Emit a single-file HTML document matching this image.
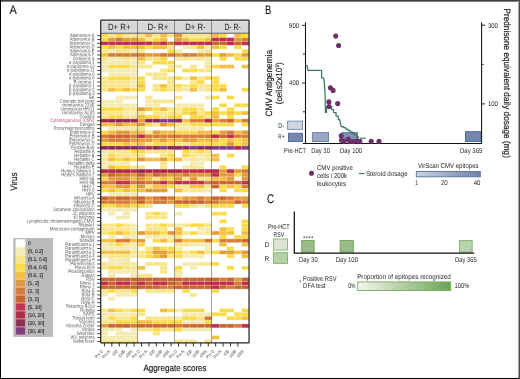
<!DOCTYPE html>
<html lang="en"><head><meta charset="utf-8"><title>Figure</title>
<style>html,body{margin:0;padding:0;background:#fff;overflow:hidden}svg{display:block}text{font-family:"Liberation Sans",sans-serif;text-rendering:geometricPrecision}</style>
</head><body>
<svg width="520" height="379" viewBox="0 0 520 379">
<rect x="0" y="0" width="520" height="379" fill="#ffffff"/>
<g id="panelA">
<text transform="translate(9.50,13.70) rotate(0) scale(0.8826,1)" font-size="12.4" fill="#111" stroke="#111" stroke-width="0.1">A</text>
<rect x="100.7" y="20" width="148.30" height="13.3" fill="#d9d6d6"/>
<text transform="translate(119.24,30.20) rotate(0) scale(0.8650,1)" font-size="9" fill="#222" text-anchor="middle">D+ R+</text>
<text transform="translate(157.91,30.20) rotate(0) scale(0.8715,1)" font-size="9" fill="#222" text-anchor="middle">D- R+</text>
<text transform="translate(195.49,30.20) rotate(0) scale(0.8588,1)" font-size="9" fill="#222" text-anchor="middle">D+ R-</text>
<text transform="translate(232.56,30.20) rotate(0) scale(0.7537,1)" font-size="9" fill="#222" text-anchor="middle">D- R-</text>
<g>
<rect x="100.70" y="33.70" width="7.42" height="3.87" fill="#fbdb45"/>
<rect x="108.12" y="33.70" width="7.42" height="3.87" fill="#f9e689"/>
<rect x="115.53" y="33.70" width="7.42" height="3.87" fill="#fbdb45"/>
<rect x="122.95" y="33.70" width="7.42" height="3.87" fill="#f9e689"/>
<rect x="130.36" y="33.70" width="7.42" height="3.87" fill="#f9e689"/>
<rect x="137.78" y="33.70" width="7.42" height="3.87" fill="#f9e689"/>
<rect x="145.19" y="33.70" width="7.42" height="3.87" fill="#f5be40"/>
<rect x="152.61" y="33.70" width="7.42" height="3.87" fill="#f9e689"/>
<rect x="160.02" y="33.70" width="7.42" height="3.87" fill="#f5be40"/>
<rect x="167.44" y="33.70" width="7.42" height="3.87" fill="#f9e689"/>
<rect x="174.85" y="33.70" width="7.42" height="3.87" fill="#e39a37"/>
<rect x="182.27" y="33.70" width="7.42" height="3.87" fill="#f9e689"/>
<rect x="189.68" y="33.70" width="7.42" height="3.87" fill="#f9e689"/>
<rect x="197.10" y="33.70" width="7.42" height="3.87" fill="#f9e689"/>
<rect x="204.51" y="33.70" width="7.42" height="3.87" fill="#f9e689"/>
<rect x="211.93" y="33.70" width="7.42" height="3.87" fill="#f5be40"/>
<rect x="219.34" y="33.70" width="7.42" height="3.87" fill="#fbdb45"/>
<rect x="234.17" y="33.70" width="7.42" height="3.87" fill="#f5be40"/>
<rect x="241.59" y="33.70" width="7.42" height="3.87" fill="#fbdb45"/>
<rect x="100.70" y="37.57" width="7.42" height="3.87" fill="#fbdb45"/>
<rect x="108.12" y="37.57" width="7.42" height="3.87" fill="#e39a37"/>
<rect x="115.53" y="37.57" width="7.42" height="3.87" fill="#d77b34"/>
<rect x="122.95" y="37.57" width="7.42" height="3.87" fill="#e39a37"/>
<rect x="130.36" y="37.57" width="7.42" height="3.87" fill="#e39a37"/>
<rect x="137.78" y="37.57" width="7.42" height="3.87" fill="#f5be40"/>
<rect x="145.19" y="37.57" width="7.42" height="3.87" fill="#f9e689"/>
<rect x="152.61" y="37.57" width="7.42" height="3.87" fill="#fbdb45"/>
<rect x="160.02" y="37.57" width="7.42" height="3.87" fill="#f5be40"/>
<rect x="174.85" y="37.57" width="7.42" height="3.87" fill="#e39a37"/>
<rect x="182.27" y="37.57" width="7.42" height="3.87" fill="#f5be40"/>
<rect x="189.68" y="37.57" width="7.42" height="3.87" fill="#fbdb45"/>
<rect x="197.10" y="37.57" width="7.42" height="3.87" fill="#fbdb45"/>
<rect x="204.51" y="37.57" width="7.42" height="3.87" fill="#f5be40"/>
<rect x="211.93" y="37.57" width="7.42" height="3.87" fill="#c32b4b"/>
<rect x="219.34" y="37.57" width="7.42" height="3.87" fill="#c32b4b"/>
<rect x="226.76" y="37.57" width="7.42" height="3.87" fill="#c32b4b"/>
<rect x="234.17" y="37.57" width="7.42" height="3.87" fill="#e39a37"/>
<rect x="241.59" y="37.57" width="7.42" height="3.87" fill="#d77b34"/>
<rect x="100.70" y="41.44" width="7.42" height="3.87" fill="#c32b4b"/>
<rect x="108.12" y="41.44" width="7.42" height="3.87" fill="#c32b4b"/>
<rect x="115.53" y="41.44" width="7.42" height="3.87" fill="#c32b4b"/>
<rect x="122.95" y="41.44" width="7.42" height="3.87" fill="#c32b4b"/>
<rect x="130.36" y="41.44" width="7.42" height="3.87" fill="#c32b4b"/>
<rect x="137.78" y="41.44" width="7.42" height="3.87" fill="#c32b4b"/>
<rect x="145.19" y="41.44" width="7.42" height="3.87" fill="#c32b4b"/>
<rect x="152.61" y="41.44" width="7.42" height="3.87" fill="#cc632d"/>
<rect x="160.02" y="41.44" width="7.42" height="3.87" fill="#c32b4b"/>
<rect x="167.44" y="41.44" width="7.42" height="3.87" fill="#d77b34"/>
<rect x="174.85" y="41.44" width="7.42" height="3.87" fill="#c32b4b"/>
<rect x="182.27" y="41.44" width="7.42" height="3.87" fill="#c32b4b"/>
<rect x="189.68" y="41.44" width="7.42" height="3.87" fill="#c32b4b"/>
<rect x="197.10" y="41.44" width="7.42" height="3.87" fill="#c32b4b"/>
<rect x="204.51" y="41.44" width="7.42" height="3.87" fill="#c32b4b"/>
<rect x="211.93" y="41.44" width="7.42" height="3.87" fill="#cc632d"/>
<rect x="219.34" y="41.44" width="7.42" height="3.87" fill="#cc632d"/>
<rect x="226.76" y="41.44" width="7.42" height="3.87" fill="#c32b4b"/>
<rect x="234.17" y="41.44" width="7.42" height="3.87" fill="#cc632d"/>
<rect x="241.59" y="41.44" width="7.42" height="3.87" fill="#c32b4b"/>
<rect x="100.70" y="45.31" width="7.42" height="3.87" fill="#fbdb45"/>
<rect x="108.12" y="45.31" width="7.42" height="3.87" fill="#f5be40"/>
<rect x="115.53" y="45.31" width="7.42" height="3.87" fill="#fbdb45"/>
<rect x="122.95" y="45.31" width="7.42" height="3.87" fill="#f5be40"/>
<rect x="130.36" y="45.31" width="7.42" height="3.87" fill="#f5be40"/>
<rect x="137.78" y="45.31" width="7.42" height="3.87" fill="#f5be40"/>
<rect x="145.19" y="45.31" width="7.42" height="3.87" fill="#fbdb45"/>
<rect x="152.61" y="45.31" width="7.42" height="3.87" fill="#f5be40"/>
<rect x="160.02" y="45.31" width="7.42" height="3.87" fill="#f5be40"/>
<rect x="167.44" y="45.31" width="7.42" height="3.87" fill="#f9e689"/>
<rect x="182.27" y="45.31" width="7.42" height="3.87" fill="#f4ebb2"/>
<rect x="189.68" y="45.31" width="7.42" height="3.87" fill="#f9e689"/>
<rect x="197.10" y="45.31" width="7.42" height="3.87" fill="#f5be40"/>
<rect x="204.51" y="45.31" width="7.42" height="3.87" fill="#f4ebb2"/>
<rect x="211.93" y="45.31" width="7.42" height="3.87" fill="#f5be40"/>
<rect x="219.34" y="45.31" width="7.42" height="3.87" fill="#fbdb45"/>
<rect x="234.17" y="45.31" width="7.42" height="3.87" fill="#fbdb45"/>
<rect x="100.70" y="49.18" width="7.42" height="3.87" fill="#f9e689"/>
<rect x="108.12" y="49.18" width="7.42" height="3.87" fill="#f4ebb2"/>
<rect x="115.53" y="49.18" width="7.42" height="3.87" fill="#f9e689"/>
<rect x="122.95" y="49.18" width="7.42" height="3.87" fill="#f9e689"/>
<rect x="130.36" y="49.18" width="7.42" height="3.87" fill="#f4ebb2"/>
<rect x="137.78" y="49.18" width="7.42" height="3.87" fill="#f9e689"/>
<rect x="167.44" y="49.18" width="7.42" height="3.87" fill="#fbdb45"/>
<rect x="174.85" y="49.18" width="7.42" height="3.87" fill="#f4ebb2"/>
<rect x="197.10" y="49.18" width="7.42" height="3.87" fill="#f4ebb2"/>
<rect x="204.51" y="49.18" width="7.42" height="3.87" fill="#f9e689"/>
<rect x="241.59" y="49.18" width="7.42" height="3.87" fill="#fbdb45"/>
<rect x="100.70" y="53.05" width="7.42" height="3.87" fill="#f5be40"/>
<rect x="108.12" y="53.05" width="7.42" height="3.87" fill="#d77b34"/>
<rect x="115.53" y="53.05" width="7.42" height="3.87" fill="#d77b34"/>
<rect x="122.95" y="53.05" width="7.42" height="3.87" fill="#d77b34"/>
<rect x="130.36" y="53.05" width="7.42" height="3.87" fill="#d77b34"/>
<rect x="137.78" y="53.05" width="7.42" height="3.87" fill="#d77b34"/>
<rect x="145.19" y="53.05" width="7.42" height="3.87" fill="#e39a37"/>
<rect x="152.61" y="53.05" width="7.42" height="3.87" fill="#e39a37"/>
<rect x="160.02" y="53.05" width="7.42" height="3.87" fill="#d77b34"/>
<rect x="167.44" y="53.05" width="7.42" height="3.87" fill="#d77b34"/>
<rect x="174.85" y="53.05" width="7.42" height="3.87" fill="#e39a37"/>
<rect x="182.27" y="53.05" width="7.42" height="3.87" fill="#d77b34"/>
<rect x="189.68" y="53.05" width="7.42" height="3.87" fill="#d77b34"/>
<rect x="197.10" y="53.05" width="7.42" height="3.87" fill="#e39a37"/>
<rect x="204.51" y="53.05" width="7.42" height="3.87" fill="#e39a37"/>
<rect x="211.93" y="53.05" width="7.42" height="3.87" fill="#fbdb45"/>
<rect x="219.34" y="53.05" width="7.42" height="3.87" fill="#e39a37"/>
<rect x="226.76" y="53.05" width="7.42" height="3.87" fill="#f5be40"/>
<rect x="234.17" y="53.05" width="7.42" height="3.87" fill="#fbdb45"/>
<rect x="241.59" y="53.05" width="7.42" height="3.87" fill="#e39a37"/>
<rect x="100.70" y="56.92" width="7.42" height="3.87" fill="#f9e689"/>
<rect x="108.12" y="56.92" width="7.42" height="3.87" fill="#f4ebb2"/>
<rect x="115.53" y="56.92" width="7.42" height="3.87" fill="#f4ebb2"/>
<rect x="122.95" y="56.92" width="7.42" height="3.87" fill="#f9e689"/>
<rect x="130.36" y="56.92" width="7.42" height="3.87" fill="#f4ebb2"/>
<rect x="137.78" y="56.92" width="7.42" height="3.87" fill="#f5be40"/>
<rect x="145.19" y="56.92" width="7.42" height="3.87" fill="#f9e689"/>
<rect x="152.61" y="56.92" width="7.42" height="3.87" fill="#f9e689"/>
<rect x="160.02" y="56.92" width="7.42" height="3.87" fill="#fbdb45"/>
<rect x="174.85" y="56.92" width="7.42" height="3.87" fill="#f4ebb2"/>
<rect x="182.27" y="56.92" width="7.42" height="3.87" fill="#f9e689"/>
<rect x="189.68" y="56.92" width="7.42" height="3.87" fill="#f4ebb2"/>
<rect x="197.10" y="56.92" width="7.42" height="3.87" fill="#f9e689"/>
<rect x="204.51" y="56.92" width="7.42" height="3.87" fill="#f4ebb2"/>
<rect x="219.34" y="56.92" width="7.42" height="3.87" fill="#fbdb45"/>
<rect x="234.17" y="56.92" width="7.42" height="3.87" fill="#fbdb45"/>
<rect x="241.59" y="56.92" width="7.42" height="3.87" fill="#fbdb45"/>
<rect x="100.70" y="60.79" width="7.42" height="3.87" fill="#f4ebb2"/>
<rect x="108.12" y="60.79" width="7.42" height="3.87" fill="#f4ebb2"/>
<rect x="115.53" y="60.79" width="7.42" height="3.87" fill="#f4ebb2"/>
<rect x="122.95" y="60.79" width="7.42" height="3.87" fill="#f4ebb2"/>
<rect x="130.36" y="60.79" width="7.42" height="3.87" fill="#f4ebb2"/>
<rect x="137.78" y="60.79" width="7.42" height="3.87" fill="#f9e689"/>
<rect x="152.61" y="60.79" width="7.42" height="3.87" fill="#fbdb45"/>
<rect x="160.02" y="60.79" width="7.42" height="3.87" fill="#fbdb45"/>
<rect x="167.44" y="60.79" width="7.42" height="3.87" fill="#fbdb45"/>
<rect x="204.51" y="60.79" width="7.42" height="3.87" fill="#f4ebb2"/>
<rect x="100.70" y="64.66" width="7.42" height="3.87" fill="#f4ebb2"/>
<rect x="108.12" y="64.66" width="7.42" height="3.87" fill="#fbdb45"/>
<rect x="115.53" y="64.66" width="7.42" height="3.87" fill="#fbdb45"/>
<rect x="122.95" y="64.66" width="7.42" height="3.87" fill="#fbdb45"/>
<rect x="130.36" y="64.66" width="7.42" height="3.87" fill="#f9e689"/>
<rect x="137.78" y="64.66" width="7.42" height="3.87" fill="#f9e689"/>
<rect x="145.19" y="64.66" width="7.42" height="3.87" fill="#f9e689"/>
<rect x="167.44" y="64.66" width="7.42" height="3.87" fill="#f9e689"/>
<rect x="174.85" y="64.66" width="7.42" height="3.87" fill="#f4ebb2"/>
<rect x="189.68" y="64.66" width="7.42" height="3.87" fill="#f9e689"/>
<rect x="204.51" y="64.66" width="7.42" height="3.87" fill="#f9e689"/>
<rect x="211.93" y="64.66" width="7.42" height="3.87" fill="#fbdb45"/>
<rect x="219.34" y="64.66" width="7.42" height="3.87" fill="#f5be40"/>
<rect x="226.76" y="64.66" width="7.42" height="3.87" fill="#f5be40"/>
<rect x="241.59" y="64.66" width="7.42" height="3.87" fill="#f5be40"/>
<rect x="100.70" y="68.53" width="7.42" height="3.87" fill="#f4ebb2"/>
<rect x="108.12" y="68.53" width="7.42" height="3.87" fill="#f4ebb2"/>
<rect x="115.53" y="68.53" width="7.42" height="3.87" fill="#f4ebb2"/>
<rect x="122.95" y="68.53" width="7.42" height="3.87" fill="#f4ebb2"/>
<rect x="130.36" y="68.53" width="7.42" height="3.87" fill="#f4ebb2"/>
<rect x="160.02" y="68.53" width="7.42" height="3.87" fill="#f9e689"/>
<rect x="167.44" y="68.53" width="7.42" height="3.87" fill="#fbdb45"/>
<rect x="182.27" y="68.53" width="7.42" height="3.87" fill="#fbdb45"/>
<rect x="189.68" y="68.53" width="7.42" height="3.87" fill="#fbdb45"/>
<rect x="197.10" y="68.53" width="7.42" height="3.87" fill="#f9e689"/>
<rect x="204.51" y="68.53" width="7.42" height="3.87" fill="#f9e689"/>
<rect x="108.12" y="72.40" width="7.42" height="3.87" fill="#f4ebb2"/>
<rect x="115.53" y="72.40" width="7.42" height="3.87" fill="#f4ebb2"/>
<rect x="122.95" y="72.40" width="7.42" height="3.87" fill="#f4ebb2"/>
<rect x="130.36" y="72.40" width="7.42" height="3.87" fill="#f4ebb2"/>
<rect x="145.19" y="72.40" width="7.42" height="3.87" fill="#f9e689"/>
<rect x="152.61" y="72.40" width="7.42" height="3.87" fill="#f9e689"/>
<rect x="160.02" y="72.40" width="7.42" height="3.87" fill="#f9e689"/>
<rect x="100.70" y="76.27" width="7.42" height="3.87" fill="#f9e689"/>
<rect x="108.12" y="76.27" width="7.42" height="3.87" fill="#fbdb45"/>
<rect x="115.53" y="76.27" width="7.42" height="3.87" fill="#fbdb45"/>
<rect x="122.95" y="76.27" width="7.42" height="3.87" fill="#fbdb45"/>
<rect x="130.36" y="76.27" width="7.42" height="3.87" fill="#f9e689"/>
<rect x="137.78" y="76.27" width="7.42" height="3.87" fill="#fbdb45"/>
<rect x="152.61" y="76.27" width="7.42" height="3.87" fill="#f9e689"/>
<rect x="160.02" y="76.27" width="7.42" height="3.87" fill="#f9e689"/>
<rect x="167.44" y="76.27" width="7.42" height="3.87" fill="#f9e689"/>
<rect x="174.85" y="76.27" width="7.42" height="3.87" fill="#fbdb45"/>
<rect x="182.27" y="76.27" width="7.42" height="3.87" fill="#f4ebb2"/>
<rect x="189.68" y="76.27" width="7.42" height="3.87" fill="#f5be40"/>
<rect x="197.10" y="76.27" width="7.42" height="3.87" fill="#f9e689"/>
<rect x="204.51" y="76.27" width="7.42" height="3.87" fill="#fbdb45"/>
<rect x="211.93" y="76.27" width="7.42" height="3.87" fill="#fbdb45"/>
<rect x="100.70" y="80.14" width="7.42" height="3.87" fill="#f9e689"/>
<rect x="108.12" y="80.14" width="7.42" height="3.87" fill="#f9e689"/>
<rect x="115.53" y="80.14" width="7.42" height="3.87" fill="#f9e689"/>
<rect x="122.95" y="80.14" width="7.42" height="3.87" fill="#f9e689"/>
<rect x="130.36" y="80.14" width="7.42" height="3.87" fill="#f4ebb2"/>
<rect x="137.78" y="80.14" width="7.42" height="3.87" fill="#fbdb45"/>
<rect x="167.44" y="80.14" width="7.42" height="3.87" fill="#f9e689"/>
<rect x="189.68" y="80.14" width="7.42" height="3.87" fill="#f9e689"/>
<rect x="197.10" y="80.14" width="7.42" height="3.87" fill="#fbdb45"/>
<rect x="211.93" y="80.14" width="7.42" height="3.87" fill="#fbdb45"/>
<rect x="100.70" y="84.01" width="7.42" height="3.87" fill="#f9e689"/>
<rect x="108.12" y="84.01" width="7.42" height="3.87" fill="#f9e689"/>
<rect x="115.53" y="84.01" width="7.42" height="3.87" fill="#f9e689"/>
<rect x="122.95" y="84.01" width="7.42" height="3.87" fill="#f9e689"/>
<rect x="130.36" y="84.01" width="7.42" height="3.87" fill="#f4ebb2"/>
<rect x="137.78" y="84.01" width="7.42" height="3.87" fill="#f5be40"/>
<rect x="152.61" y="84.01" width="7.42" height="3.87" fill="#f9e689"/>
<rect x="160.02" y="84.01" width="7.42" height="3.87" fill="#f5be40"/>
<rect x="167.44" y="84.01" width="7.42" height="3.87" fill="#f9e689"/>
<rect x="174.85" y="84.01" width="7.42" height="3.87" fill="#fbdb45"/>
<rect x="182.27" y="84.01" width="7.42" height="3.87" fill="#f9e689"/>
<rect x="189.68" y="84.01" width="7.42" height="3.87" fill="#fbdb45"/>
<rect x="197.10" y="84.01" width="7.42" height="3.87" fill="#f9e689"/>
<rect x="204.51" y="84.01" width="7.42" height="3.87" fill="#f9e689"/>
<rect x="211.93" y="84.01" width="7.42" height="3.87" fill="#fbdb45"/>
<rect x="219.34" y="84.01" width="7.42" height="3.87" fill="#fbdb45"/>
<rect x="100.70" y="87.88" width="7.42" height="3.87" fill="#f9e689"/>
<rect x="108.12" y="87.88" width="7.42" height="3.87" fill="#f5be40"/>
<rect x="115.53" y="87.88" width="7.42" height="3.87" fill="#fbdb45"/>
<rect x="122.95" y="87.88" width="7.42" height="3.87" fill="#f5be40"/>
<rect x="130.36" y="87.88" width="7.42" height="3.87" fill="#fbdb45"/>
<rect x="137.78" y="87.88" width="7.42" height="3.87" fill="#fbdb45"/>
<rect x="152.61" y="87.88" width="7.42" height="3.87" fill="#f9e689"/>
<rect x="160.02" y="87.88" width="7.42" height="3.87" fill="#fbdb45"/>
<rect x="167.44" y="87.88" width="7.42" height="3.87" fill="#f9e689"/>
<rect x="174.85" y="87.88" width="7.42" height="3.87" fill="#f9e689"/>
<rect x="182.27" y="87.88" width="7.42" height="3.87" fill="#f4ebb2"/>
<rect x="189.68" y="87.88" width="7.42" height="3.87" fill="#f5be40"/>
<rect x="197.10" y="87.88" width="7.42" height="3.87" fill="#f4ebb2"/>
<rect x="204.51" y="87.88" width="7.42" height="3.87" fill="#f9e689"/>
<rect x="211.93" y="87.88" width="7.42" height="3.87" fill="#fbdb45"/>
<rect x="219.34" y="87.88" width="7.42" height="3.87" fill="#f5be40"/>
<rect x="241.59" y="87.88" width="7.42" height="3.87" fill="#fbdb45"/>
<rect x="115.53" y="95.62" width="7.42" height="3.87" fill="#f4ebb2"/>
<rect x="122.95" y="95.62" width="7.42" height="3.87" fill="#f4ebb2"/>
<rect x="130.36" y="95.62" width="7.42" height="3.87" fill="#f4ebb2"/>
<rect x="145.19" y="95.62" width="7.42" height="3.87" fill="#f9e689"/>
<rect x="174.85" y="95.62" width="7.42" height="3.87" fill="#f9e689"/>
<rect x="204.51" y="95.62" width="7.42" height="3.87" fill="#f4ebb2"/>
<rect x="211.93" y="95.62" width="7.42" height="3.87" fill="#fbdb45"/>
<rect x="226.76" y="95.62" width="7.42" height="3.87" fill="#fbdb45"/>
<rect x="100.70" y="99.49" width="7.42" height="3.87" fill="#f4ebb2"/>
<rect x="108.12" y="99.49" width="7.42" height="3.87" fill="#f4ebb2"/>
<rect x="115.53" y="99.49" width="7.42" height="3.87" fill="#f4ebb2"/>
<rect x="145.19" y="99.49" width="7.42" height="3.87" fill="#f4ebb2"/>
<rect x="152.61" y="99.49" width="7.42" height="3.87" fill="#f9e689"/>
<rect x="160.02" y="99.49" width="7.42" height="3.87" fill="#f9e689"/>
<rect x="167.44" y="99.49" width="7.42" height="3.87" fill="#f9e689"/>
<rect x="100.70" y="103.36" width="7.42" height="3.87" fill="#f4ebb2"/>
<rect x="108.12" y="103.36" width="7.42" height="3.87" fill="#f4ebb2"/>
<rect x="115.53" y="103.36" width="7.42" height="3.87" fill="#f4ebb2"/>
<rect x="122.95" y="103.36" width="7.42" height="3.87" fill="#f4ebb2"/>
<rect x="130.36" y="103.36" width="7.42" height="3.87" fill="#f4ebb2"/>
<rect x="145.19" y="103.36" width="7.42" height="3.87" fill="#f4ebb2"/>
<rect x="152.61" y="103.36" width="7.42" height="3.87" fill="#f4ebb2"/>
<rect x="174.85" y="103.36" width="7.42" height="3.87" fill="#f4ebb2"/>
<rect x="182.27" y="103.36" width="7.42" height="3.87" fill="#f4ebb2"/>
<rect x="189.68" y="103.36" width="7.42" height="3.87" fill="#f4ebb2"/>
<rect x="197.10" y="103.36" width="7.42" height="3.87" fill="#f4ebb2"/>
<rect x="219.34" y="103.36" width="7.42" height="3.87" fill="#fbdb45"/>
<rect x="234.17" y="103.36" width="7.42" height="3.87" fill="#fbdb45"/>
<rect x="241.59" y="103.36" width="7.42" height="3.87" fill="#fbdb45"/>
<rect x="100.70" y="107.23" width="7.42" height="3.87" fill="#fbdb45"/>
<rect x="108.12" y="107.23" width="7.42" height="3.87" fill="#fbdb45"/>
<rect x="115.53" y="107.23" width="7.42" height="3.87" fill="#fbdb45"/>
<rect x="122.95" y="107.23" width="7.42" height="3.87" fill="#f9e689"/>
<rect x="130.36" y="107.23" width="7.42" height="3.87" fill="#f9e689"/>
<rect x="137.78" y="107.23" width="7.42" height="3.87" fill="#e39a37"/>
<rect x="145.19" y="107.23" width="7.42" height="3.87" fill="#f5be40"/>
<rect x="152.61" y="107.23" width="7.42" height="3.87" fill="#fbdb45"/>
<rect x="160.02" y="107.23" width="7.42" height="3.87" fill="#f5be40"/>
<rect x="167.44" y="107.23" width="7.42" height="3.87" fill="#f9e689"/>
<rect x="174.85" y="107.23" width="7.42" height="3.87" fill="#f9e689"/>
<rect x="182.27" y="107.23" width="7.42" height="3.87" fill="#fbdb45"/>
<rect x="189.68" y="107.23" width="7.42" height="3.87" fill="#fbdb45"/>
<rect x="197.10" y="107.23" width="7.42" height="3.87" fill="#f9e689"/>
<rect x="211.93" y="107.23" width="7.42" height="3.87" fill="#fbdb45"/>
<rect x="226.76" y="107.23" width="7.42" height="3.87" fill="#fbdb45"/>
<rect x="100.70" y="111.10" width="7.42" height="3.87" fill="#f9e689"/>
<rect x="108.12" y="111.10" width="7.42" height="3.87" fill="#f9e689"/>
<rect x="115.53" y="111.10" width="7.42" height="3.87" fill="#f9e689"/>
<rect x="122.95" y="111.10" width="7.42" height="3.87" fill="#f4ebb2"/>
<rect x="130.36" y="111.10" width="7.42" height="3.87" fill="#f4ebb2"/>
<rect x="137.78" y="111.10" width="7.42" height="3.87" fill="#f9e689"/>
<rect x="152.61" y="111.10" width="7.42" height="3.87" fill="#f9e689"/>
<rect x="160.02" y="111.10" width="7.42" height="3.87" fill="#f9e689"/>
<rect x="167.44" y="111.10" width="7.42" height="3.87" fill="#f9e689"/>
<rect x="174.85" y="111.10" width="7.42" height="3.87" fill="#f9e689"/>
<rect x="182.27" y="111.10" width="7.42" height="3.87" fill="#fbdb45"/>
<rect x="189.68" y="111.10" width="7.42" height="3.87" fill="#f5be40"/>
<rect x="197.10" y="111.10" width="7.42" height="3.87" fill="#f9e689"/>
<rect x="204.51" y="111.10" width="7.42" height="3.87" fill="#fbdb45"/>
<rect x="211.93" y="111.10" width="7.42" height="3.87" fill="#f5be40"/>
<rect x="219.34" y="111.10" width="7.42" height="3.87" fill="#fbdb45"/>
<rect x="226.76" y="111.10" width="7.42" height="3.87" fill="#f5be40"/>
<rect x="234.17" y="111.10" width="7.42" height="3.87" fill="#fbdb45"/>
<rect x="241.59" y="111.10" width="7.42" height="3.87" fill="#f5be40"/>
<rect x="100.70" y="114.97" width="7.42" height="3.87" fill="#f9e689"/>
<rect x="108.12" y="114.97" width="7.42" height="3.87" fill="#fbdb45"/>
<rect x="115.53" y="114.97" width="7.42" height="3.87" fill="#fbdb45"/>
<rect x="122.95" y="114.97" width="7.42" height="3.87" fill="#f9e689"/>
<rect x="130.36" y="114.97" width="7.42" height="3.87" fill="#f9e689"/>
<rect x="137.78" y="114.97" width="7.42" height="3.87" fill="#f5be40"/>
<rect x="145.19" y="114.97" width="7.42" height="3.87" fill="#fbdb45"/>
<rect x="152.61" y="114.97" width="7.42" height="3.87" fill="#fbdb45"/>
<rect x="160.02" y="114.97" width="7.42" height="3.87" fill="#f9e689"/>
<rect x="167.44" y="114.97" width="7.42" height="3.87" fill="#fbdb45"/>
<rect x="174.85" y="114.97" width="7.42" height="3.87" fill="#fbdb45"/>
<rect x="189.68" y="114.97" width="7.42" height="3.87" fill="#fbdb45"/>
<rect x="197.10" y="114.97" width="7.42" height="3.87" fill="#fbdb45"/>
<rect x="204.51" y="114.97" width="7.42" height="3.87" fill="#f9e689"/>
<rect x="211.93" y="114.97" width="7.42" height="3.87" fill="#f5be40"/>
<rect x="226.76" y="114.97" width="7.42" height="3.87" fill="#fbdb45"/>
<rect x="100.70" y="118.84" width="7.42" height="3.87" fill="#b02444"/>
<rect x="108.12" y="118.84" width="7.42" height="3.87" fill="#8b2458"/>
<rect x="115.53" y="118.84" width="7.42" height="3.87" fill="#8b2458"/>
<rect x="122.95" y="118.84" width="7.42" height="3.87" fill="#8b2458"/>
<rect x="130.36" y="118.84" width="7.42" height="3.87" fill="#8b2458"/>
<rect x="137.78" y="118.84" width="7.42" height="3.87" fill="#e39a37"/>
<rect x="145.19" y="118.84" width="7.42" height="3.87" fill="#8b2458"/>
<rect x="152.61" y="118.84" width="7.42" height="3.87" fill="#8b2458"/>
<rect x="160.02" y="118.84" width="7.42" height="3.87" fill="#83388a"/>
<rect x="167.44" y="118.84" width="7.42" height="3.87" fill="#83388a"/>
<rect x="174.85" y="118.84" width="7.42" height="3.87" fill="#8b2458"/>
<rect x="182.27" y="118.84" width="7.42" height="3.87" fill="#f5be40"/>
<rect x="189.68" y="118.84" width="7.42" height="3.87" fill="#d77b34"/>
<rect x="197.10" y="118.84" width="7.42" height="3.87" fill="#d77b34"/>
<rect x="204.51" y="118.84" width="7.42" height="3.87" fill="#b02444"/>
<rect x="211.93" y="118.84" width="7.42" height="3.87" fill="#e39a37"/>
<rect x="219.34" y="118.84" width="7.42" height="3.87" fill="#d77b34"/>
<rect x="226.76" y="118.84" width="7.42" height="3.87" fill="#cc632d"/>
<rect x="234.17" y="118.84" width="7.42" height="3.87" fill="#f5be40"/>
<rect x="241.59" y="118.84" width="7.42" height="3.87" fill="#d77b34"/>
<rect x="100.70" y="122.71" width="7.42" height="3.87" fill="#f5be40"/>
<rect x="108.12" y="122.71" width="7.42" height="3.87" fill="#f5be40"/>
<rect x="115.53" y="122.71" width="7.42" height="3.87" fill="#e39a37"/>
<rect x="122.95" y="122.71" width="7.42" height="3.87" fill="#f5be40"/>
<rect x="130.36" y="122.71" width="7.42" height="3.87" fill="#f5be40"/>
<rect x="137.78" y="122.71" width="7.42" height="3.87" fill="#e39a37"/>
<rect x="145.19" y="122.71" width="7.42" height="3.87" fill="#fbdb45"/>
<rect x="152.61" y="122.71" width="7.42" height="3.87" fill="#f9e689"/>
<rect x="160.02" y="122.71" width="7.42" height="3.87" fill="#e39a37"/>
<rect x="167.44" y="122.71" width="7.42" height="3.87" fill="#f5be40"/>
<rect x="174.85" y="122.71" width="7.42" height="3.87" fill="#f9e689"/>
<rect x="182.27" y="122.71" width="7.42" height="3.87" fill="#f9e689"/>
<rect x="189.68" y="122.71" width="7.42" height="3.87" fill="#fbdb45"/>
<rect x="197.10" y="122.71" width="7.42" height="3.87" fill="#fbdb45"/>
<rect x="204.51" y="122.71" width="7.42" height="3.87" fill="#fbdb45"/>
<rect x="211.93" y="122.71" width="7.42" height="3.87" fill="#fbdb45"/>
<rect x="219.34" y="122.71" width="7.42" height="3.87" fill="#fbdb45"/>
<rect x="226.76" y="122.71" width="7.42" height="3.87" fill="#fbdb45"/>
<rect x="241.59" y="122.71" width="7.42" height="3.87" fill="#fbdb45"/>
<rect x="108.12" y="126.58" width="7.42" height="3.87" fill="#f4ebb2"/>
<rect x="115.53" y="126.58" width="7.42" height="3.87" fill="#f4ebb2"/>
<rect x="122.95" y="126.58" width="7.42" height="3.87" fill="#f4ebb2"/>
<rect x="130.36" y="126.58" width="7.42" height="3.87" fill="#f4ebb2"/>
<rect x="137.78" y="126.58" width="7.42" height="3.87" fill="#f9e689"/>
<rect x="174.85" y="126.58" width="7.42" height="3.87" fill="#f4ebb2"/>
<rect x="182.27" y="126.58" width="7.42" height="3.87" fill="#f4ebb2"/>
<rect x="189.68" y="126.58" width="7.42" height="3.87" fill="#f4ebb2"/>
<rect x="197.10" y="126.58" width="7.42" height="3.87" fill="#f4ebb2"/>
<rect x="100.70" y="130.45" width="7.42" height="3.87" fill="#fbdb45"/>
<rect x="108.12" y="130.45" width="7.42" height="3.87" fill="#f5be40"/>
<rect x="115.53" y="130.45" width="7.42" height="3.87" fill="#e39a37"/>
<rect x="122.95" y="130.45" width="7.42" height="3.87" fill="#e39a37"/>
<rect x="130.36" y="130.45" width="7.42" height="3.87" fill="#f5be40"/>
<rect x="137.78" y="130.45" width="7.42" height="3.87" fill="#f5be40"/>
<rect x="145.19" y="130.45" width="7.42" height="3.87" fill="#f9e689"/>
<rect x="152.61" y="130.45" width="7.42" height="3.87" fill="#e39a37"/>
<rect x="160.02" y="130.45" width="7.42" height="3.87" fill="#f5be40"/>
<rect x="167.44" y="130.45" width="7.42" height="3.87" fill="#f5be40"/>
<rect x="174.85" y="130.45" width="7.42" height="3.87" fill="#fbdb45"/>
<rect x="182.27" y="130.45" width="7.42" height="3.87" fill="#fbdb45"/>
<rect x="189.68" y="130.45" width="7.42" height="3.87" fill="#fbdb45"/>
<rect x="197.10" y="130.45" width="7.42" height="3.87" fill="#f5be40"/>
<rect x="204.51" y="130.45" width="7.42" height="3.87" fill="#f5be40"/>
<rect x="211.93" y="130.45" width="7.42" height="3.87" fill="#fbdb45"/>
<rect x="219.34" y="130.45" width="7.42" height="3.87" fill="#e39a37"/>
<rect x="226.76" y="130.45" width="7.42" height="3.87" fill="#d77b34"/>
<rect x="234.17" y="130.45" width="7.42" height="3.87" fill="#f5be40"/>
<rect x="241.59" y="130.45" width="7.42" height="3.87" fill="#e39a37"/>
<rect x="100.70" y="134.32" width="7.42" height="3.87" fill="#d77b34"/>
<rect x="108.12" y="134.32" width="7.42" height="3.87" fill="#cc632d"/>
<rect x="115.53" y="134.32" width="7.42" height="3.87" fill="#cc632d"/>
<rect x="122.95" y="134.32" width="7.42" height="3.87" fill="#cc632d"/>
<rect x="130.36" y="134.32" width="7.42" height="3.87" fill="#d77b34"/>
<rect x="137.78" y="134.32" width="7.42" height="3.87" fill="#c32b4b"/>
<rect x="145.19" y="134.32" width="7.42" height="3.87" fill="#d77b34"/>
<rect x="152.61" y="134.32" width="7.42" height="3.87" fill="#d77b34"/>
<rect x="160.02" y="134.32" width="7.42" height="3.87" fill="#d77b34"/>
<rect x="167.44" y="134.32" width="7.42" height="3.87" fill="#d77b34"/>
<rect x="174.85" y="134.32" width="7.42" height="3.87" fill="#d77b34"/>
<rect x="182.27" y="134.32" width="7.42" height="3.87" fill="#d77b34"/>
<rect x="189.68" y="134.32" width="7.42" height="3.87" fill="#d77b34"/>
<rect x="197.10" y="134.32" width="7.42" height="3.87" fill="#d77b34"/>
<rect x="204.51" y="134.32" width="7.42" height="3.87" fill="#d77b34"/>
<rect x="211.93" y="134.32" width="7.42" height="3.87" fill="#c32b4b"/>
<rect x="219.34" y="134.32" width="7.42" height="3.87" fill="#cc632d"/>
<rect x="226.76" y="134.32" width="7.42" height="3.87" fill="#c32b4b"/>
<rect x="234.17" y="134.32" width="7.42" height="3.87" fill="#d77b34"/>
<rect x="241.59" y="134.32" width="7.42" height="3.87" fill="#d77b34"/>
<rect x="100.70" y="138.19" width="7.42" height="3.87" fill="#e39a37"/>
<rect x="108.12" y="138.19" width="7.42" height="3.87" fill="#d77b34"/>
<rect x="115.53" y="138.19" width="7.42" height="3.87" fill="#d77b34"/>
<rect x="122.95" y="138.19" width="7.42" height="3.87" fill="#d77b34"/>
<rect x="130.36" y="138.19" width="7.42" height="3.87" fill="#e39a37"/>
<rect x="137.78" y="138.19" width="7.42" height="3.87" fill="#e39a37"/>
<rect x="145.19" y="138.19" width="7.42" height="3.87" fill="#e39a37"/>
<rect x="152.61" y="138.19" width="7.42" height="3.87" fill="#f5be40"/>
<rect x="160.02" y="138.19" width="7.42" height="3.87" fill="#e39a37"/>
<rect x="167.44" y="138.19" width="7.42" height="3.87" fill="#f5be40"/>
<rect x="174.85" y="138.19" width="7.42" height="3.87" fill="#f5be40"/>
<rect x="182.27" y="138.19" width="7.42" height="3.87" fill="#e39a37"/>
<rect x="189.68" y="138.19" width="7.42" height="3.87" fill="#e39a37"/>
<rect x="197.10" y="138.19" width="7.42" height="3.87" fill="#f5be40"/>
<rect x="204.51" y="138.19" width="7.42" height="3.87" fill="#f5be40"/>
<rect x="211.93" y="138.19" width="7.42" height="3.87" fill="#f5be40"/>
<rect x="219.34" y="138.19" width="7.42" height="3.87" fill="#fbdb45"/>
<rect x="226.76" y="138.19" width="7.42" height="3.87" fill="#f5be40"/>
<rect x="234.17" y="138.19" width="7.42" height="3.87" fill="#fbdb45"/>
<rect x="241.59" y="138.19" width="7.42" height="3.87" fill="#f5be40"/>
<rect x="100.70" y="142.06" width="7.42" height="3.87" fill="#fbdb45"/>
<rect x="108.12" y="142.06" width="7.42" height="3.87" fill="#fbdb45"/>
<rect x="115.53" y="142.06" width="7.42" height="3.87" fill="#fbdb45"/>
<rect x="122.95" y="142.06" width="7.42" height="3.87" fill="#f5be40"/>
<rect x="130.36" y="142.06" width="7.42" height="3.87" fill="#fbdb45"/>
<rect x="137.78" y="142.06" width="7.42" height="3.87" fill="#f5be40"/>
<rect x="145.19" y="142.06" width="7.42" height="3.87" fill="#f9e689"/>
<rect x="152.61" y="142.06" width="7.42" height="3.87" fill="#fbdb45"/>
<rect x="160.02" y="142.06" width="7.42" height="3.87" fill="#fbdb45"/>
<rect x="167.44" y="142.06" width="7.42" height="3.87" fill="#fbdb45"/>
<rect x="174.85" y="142.06" width="7.42" height="3.87" fill="#f9e689"/>
<rect x="182.27" y="142.06" width="7.42" height="3.87" fill="#f9e689"/>
<rect x="189.68" y="142.06" width="7.42" height="3.87" fill="#fbdb45"/>
<rect x="197.10" y="142.06" width="7.42" height="3.87" fill="#fbdb45"/>
<rect x="204.51" y="142.06" width="7.42" height="3.87" fill="#fbdb45"/>
<rect x="211.93" y="142.06" width="7.42" height="3.87" fill="#fbdb45"/>
<rect x="219.34" y="142.06" width="7.42" height="3.87" fill="#fbdb45"/>
<rect x="226.76" y="142.06" width="7.42" height="3.87" fill="#e39a37"/>
<rect x="234.17" y="142.06" width="7.42" height="3.87" fill="#fbdb45"/>
<rect x="241.59" y="142.06" width="7.42" height="3.87" fill="#f5be40"/>
<rect x="100.70" y="145.93" width="7.42" height="3.87" fill="#8b2458"/>
<rect x="108.12" y="145.93" width="7.42" height="3.87" fill="#8b2458"/>
<rect x="115.53" y="145.93" width="7.42" height="3.87" fill="#8b2458"/>
<rect x="122.95" y="145.93" width="7.42" height="3.87" fill="#8b2458"/>
<rect x="130.36" y="145.93" width="7.42" height="3.87" fill="#8b2458"/>
<rect x="137.78" y="145.93" width="7.42" height="3.87" fill="#83388a"/>
<rect x="145.19" y="145.93" width="7.42" height="3.87" fill="#b02444"/>
<rect x="152.61" y="145.93" width="7.42" height="3.87" fill="#8b2458"/>
<rect x="160.02" y="145.93" width="7.42" height="3.87" fill="#83388a"/>
<rect x="167.44" y="145.93" width="7.42" height="3.87" fill="#8b2458"/>
<rect x="174.85" y="145.93" width="7.42" height="3.87" fill="#8b2458"/>
<rect x="182.27" y="145.93" width="7.42" height="3.87" fill="#8b2458"/>
<rect x="189.68" y="145.93" width="7.42" height="3.87" fill="#83388a"/>
<rect x="197.10" y="145.93" width="7.42" height="3.87" fill="#8b2458"/>
<rect x="204.51" y="145.93" width="7.42" height="3.87" fill="#8b2458"/>
<rect x="211.93" y="145.93" width="7.42" height="3.87" fill="#83388a"/>
<rect x="219.34" y="145.93" width="7.42" height="3.87" fill="#83388a"/>
<rect x="226.76" y="145.93" width="7.42" height="3.87" fill="#83388a"/>
<rect x="234.17" y="145.93" width="7.42" height="3.87" fill="#b02444"/>
<rect x="241.59" y="145.93" width="7.42" height="3.87" fill="#83388a"/>
<rect x="100.70" y="149.80" width="7.42" height="3.87" fill="#f4ebb2"/>
<rect x="108.12" y="149.80" width="7.42" height="3.87" fill="#f9e689"/>
<rect x="115.53" y="149.80" width="7.42" height="3.87" fill="#f9e689"/>
<rect x="122.95" y="149.80" width="7.42" height="3.87" fill="#f9e689"/>
<rect x="130.36" y="149.80" width="7.42" height="3.87" fill="#fbdb45"/>
<rect x="137.78" y="149.80" width="7.42" height="3.87" fill="#fbdb45"/>
<rect x="145.19" y="149.80" width="7.42" height="3.87" fill="#f9e689"/>
<rect x="152.61" y="149.80" width="7.42" height="3.87" fill="#f9e689"/>
<rect x="160.02" y="149.80" width="7.42" height="3.87" fill="#f9e689"/>
<rect x="167.44" y="149.80" width="7.42" height="3.87" fill="#f9e689"/>
<rect x="182.27" y="149.80" width="7.42" height="3.87" fill="#fbdb45"/>
<rect x="189.68" y="149.80" width="7.42" height="3.87" fill="#f9e689"/>
<rect x="197.10" y="149.80" width="7.42" height="3.87" fill="#fbdb45"/>
<rect x="204.51" y="149.80" width="7.42" height="3.87" fill="#f9e689"/>
<rect x="100.70" y="153.67" width="7.42" height="3.87" fill="#f4ebb2"/>
<rect x="108.12" y="153.67" width="7.42" height="3.87" fill="#fbdb45"/>
<rect x="115.53" y="153.67" width="7.42" height="3.87" fill="#f9e689"/>
<rect x="122.95" y="153.67" width="7.42" height="3.87" fill="#f9e689"/>
<rect x="130.36" y="153.67" width="7.42" height="3.87" fill="#f9e689"/>
<rect x="137.78" y="153.67" width="7.42" height="3.87" fill="#f9e689"/>
<rect x="160.02" y="153.67" width="7.42" height="3.87" fill="#f9e689"/>
<rect x="167.44" y="153.67" width="7.42" height="3.87" fill="#fbdb45"/>
<rect x="182.27" y="153.67" width="7.42" height="3.87" fill="#fbdb45"/>
<rect x="189.68" y="153.67" width="7.42" height="3.87" fill="#f9e689"/>
<rect x="197.10" y="153.67" width="7.42" height="3.87" fill="#f4ebb2"/>
<rect x="204.51" y="153.67" width="7.42" height="3.87" fill="#f9e689"/>
<rect x="211.93" y="153.67" width="7.42" height="3.87" fill="#f5be40"/>
<rect x="226.76" y="153.67" width="7.42" height="3.87" fill="#fbdb45"/>
<rect x="100.70" y="157.54" width="7.42" height="3.87" fill="#f9e689"/>
<rect x="108.12" y="157.54" width="7.42" height="3.87" fill="#f5be40"/>
<rect x="115.53" y="157.54" width="7.42" height="3.87" fill="#fbdb45"/>
<rect x="122.95" y="157.54" width="7.42" height="3.87" fill="#f5be40"/>
<rect x="130.36" y="157.54" width="7.42" height="3.87" fill="#fbdb45"/>
<rect x="137.78" y="157.54" width="7.42" height="3.87" fill="#e39a37"/>
<rect x="145.19" y="157.54" width="7.42" height="3.87" fill="#f5be40"/>
<rect x="152.61" y="157.54" width="7.42" height="3.87" fill="#f5be40"/>
<rect x="160.02" y="157.54" width="7.42" height="3.87" fill="#e39a37"/>
<rect x="167.44" y="157.54" width="7.42" height="3.87" fill="#fbdb45"/>
<rect x="174.85" y="157.54" width="7.42" height="3.87" fill="#f5be40"/>
<rect x="182.27" y="157.54" width="7.42" height="3.87" fill="#f4ebb2"/>
<rect x="189.68" y="157.54" width="7.42" height="3.87" fill="#f9e689"/>
<rect x="197.10" y="157.54" width="7.42" height="3.87" fill="#f4ebb2"/>
<rect x="204.51" y="157.54" width="7.42" height="3.87" fill="#f9e689"/>
<rect x="211.93" y="157.54" width="7.42" height="3.87" fill="#f5be40"/>
<rect x="100.70" y="161.41" width="7.42" height="3.87" fill="#f4ebb2"/>
<rect x="108.12" y="161.41" width="7.42" height="3.87" fill="#f4ebb2"/>
<rect x="115.53" y="161.41" width="7.42" height="3.87" fill="#f4ebb2"/>
<rect x="122.95" y="161.41" width="7.42" height="3.87" fill="#f4ebb2"/>
<rect x="160.02" y="161.41" width="7.42" height="3.87" fill="#f9e689"/>
<rect x="189.68" y="161.41" width="7.42" height="3.87" fill="#f4ebb2"/>
<rect x="197.10" y="161.41" width="7.42" height="3.87" fill="#f4ebb2"/>
<rect x="100.70" y="165.28" width="7.42" height="3.87" fill="#f4ebb2"/>
<rect x="108.12" y="165.28" width="7.42" height="3.87" fill="#f5be40"/>
<rect x="115.53" y="165.28" width="7.42" height="3.87" fill="#fbdb45"/>
<rect x="122.95" y="165.28" width="7.42" height="3.87" fill="#fbdb45"/>
<rect x="130.36" y="165.28" width="7.42" height="3.87" fill="#f9e689"/>
<rect x="137.78" y="165.28" width="7.42" height="3.87" fill="#f9e689"/>
<rect x="160.02" y="165.28" width="7.42" height="3.87" fill="#f9e689"/>
<rect x="182.27" y="165.28" width="7.42" height="3.87" fill="#f4ebb2"/>
<rect x="189.68" y="165.28" width="7.42" height="3.87" fill="#f9e689"/>
<rect x="197.10" y="165.28" width="7.42" height="3.87" fill="#f4ebb2"/>
<rect x="219.34" y="165.28" width="7.42" height="3.87" fill="#fbdb45"/>
<rect x="241.59" y="165.28" width="7.42" height="3.87" fill="#fbdb45"/>
<rect x="100.70" y="169.15" width="7.42" height="3.87" fill="#b02444"/>
<rect x="108.12" y="169.15" width="7.42" height="3.87" fill="#b02444"/>
<rect x="115.53" y="169.15" width="7.42" height="3.87" fill="#b02444"/>
<rect x="122.95" y="169.15" width="7.42" height="3.87" fill="#b02444"/>
<rect x="130.36" y="169.15" width="7.42" height="3.87" fill="#c32b4b"/>
<rect x="137.78" y="169.15" width="7.42" height="3.87" fill="#8b2458"/>
<rect x="145.19" y="169.15" width="7.42" height="3.87" fill="#b02444"/>
<rect x="152.61" y="169.15" width="7.42" height="3.87" fill="#b02444"/>
<rect x="160.02" y="169.15" width="7.42" height="3.87" fill="#b02444"/>
<rect x="167.44" y="169.15" width="7.42" height="3.87" fill="#b02444"/>
<rect x="174.85" y="169.15" width="7.42" height="3.87" fill="#b02444"/>
<rect x="182.27" y="169.15" width="7.42" height="3.87" fill="#c32b4b"/>
<rect x="189.68" y="169.15" width="7.42" height="3.87" fill="#c32b4b"/>
<rect x="197.10" y="169.15" width="7.42" height="3.87" fill="#c32b4b"/>
<rect x="204.51" y="169.15" width="7.42" height="3.87" fill="#c32b4b"/>
<rect x="211.93" y="169.15" width="7.42" height="3.87" fill="#b02444"/>
<rect x="219.34" y="169.15" width="7.42" height="3.87" fill="#e39a37"/>
<rect x="226.76" y="169.15" width="7.42" height="3.87" fill="#c32b4b"/>
<rect x="234.17" y="169.15" width="7.42" height="3.87" fill="#e39a37"/>
<rect x="241.59" y="169.15" width="7.42" height="3.87" fill="#d77b34"/>
<rect x="100.70" y="173.02" width="7.42" height="3.87" fill="#e39a37"/>
<rect x="108.12" y="173.02" width="7.42" height="3.87" fill="#cc632d"/>
<rect x="115.53" y="173.02" width="7.42" height="3.87" fill="#d77b34"/>
<rect x="122.95" y="173.02" width="7.42" height="3.87" fill="#d77b34"/>
<rect x="130.36" y="173.02" width="7.42" height="3.87" fill="#e39a37"/>
<rect x="137.78" y="173.02" width="7.42" height="3.87" fill="#cc632d"/>
<rect x="145.19" y="173.02" width="7.42" height="3.87" fill="#e39a37"/>
<rect x="152.61" y="173.02" width="7.42" height="3.87" fill="#cc632d"/>
<rect x="160.02" y="173.02" width="7.42" height="3.87" fill="#d77b34"/>
<rect x="167.44" y="173.02" width="7.42" height="3.87" fill="#e39a37"/>
<rect x="174.85" y="173.02" width="7.42" height="3.87" fill="#e39a37"/>
<rect x="182.27" y="173.02" width="7.42" height="3.87" fill="#d77b34"/>
<rect x="189.68" y="173.02" width="7.42" height="3.87" fill="#e39a37"/>
<rect x="197.10" y="173.02" width="7.42" height="3.87" fill="#e39a37"/>
<rect x="204.51" y="173.02" width="7.42" height="3.87" fill="#e39a37"/>
<rect x="211.93" y="173.02" width="7.42" height="3.87" fill="#c32b4b"/>
<rect x="219.34" y="173.02" width="7.42" height="3.87" fill="#e39a37"/>
<rect x="226.76" y="173.02" width="7.42" height="3.87" fill="#e39a37"/>
<rect x="234.17" y="173.02" width="7.42" height="3.87" fill="#fbdb45"/>
<rect x="241.59" y="173.02" width="7.42" height="3.87" fill="#e39a37"/>
<rect x="100.70" y="176.89" width="7.42" height="3.87" fill="#fbdb45"/>
<rect x="108.12" y="176.89" width="7.42" height="3.87" fill="#e39a37"/>
<rect x="115.53" y="176.89" width="7.42" height="3.87" fill="#e39a37"/>
<rect x="122.95" y="176.89" width="7.42" height="3.87" fill="#e39a37"/>
<rect x="130.36" y="176.89" width="7.42" height="3.87" fill="#f5be40"/>
<rect x="137.78" y="176.89" width="7.42" height="3.87" fill="#e39a37"/>
<rect x="145.19" y="176.89" width="7.42" height="3.87" fill="#f5be40"/>
<rect x="152.61" y="176.89" width="7.42" height="3.87" fill="#f9e689"/>
<rect x="160.02" y="176.89" width="7.42" height="3.87" fill="#f5be40"/>
<rect x="167.44" y="176.89" width="7.42" height="3.87" fill="#fbdb45"/>
<rect x="174.85" y="176.89" width="7.42" height="3.87" fill="#e39a37"/>
<rect x="182.27" y="176.89" width="7.42" height="3.87" fill="#f9e689"/>
<rect x="189.68" y="176.89" width="7.42" height="3.87" fill="#e39a37"/>
<rect x="197.10" y="176.89" width="7.42" height="3.87" fill="#f9e689"/>
<rect x="204.51" y="176.89" width="7.42" height="3.87" fill="#f9e689"/>
<rect x="211.93" y="176.89" width="7.42" height="3.87" fill="#f5be40"/>
<rect x="219.34" y="176.89" width="7.42" height="3.87" fill="#f5be40"/>
<rect x="226.76" y="176.89" width="7.42" height="3.87" fill="#e39a37"/>
<rect x="241.59" y="176.89" width="7.42" height="3.87" fill="#e39a37"/>
<rect x="100.70" y="180.76" width="7.42" height="3.87" fill="#d77b34"/>
<rect x="108.12" y="180.76" width="7.42" height="3.87" fill="#d77b34"/>
<rect x="115.53" y="180.76" width="7.42" height="3.87" fill="#c32b4b"/>
<rect x="122.95" y="180.76" width="7.42" height="3.87" fill="#c32b4b"/>
<rect x="130.36" y="180.76" width="7.42" height="3.87" fill="#d77b34"/>
<rect x="137.78" y="180.76" width="7.42" height="3.87" fill="#cc632d"/>
<rect x="145.19" y="180.76" width="7.42" height="3.87" fill="#d77b34"/>
<rect x="152.61" y="180.76" width="7.42" height="3.87" fill="#cc632d"/>
<rect x="160.02" y="180.76" width="7.42" height="3.87" fill="#c32b4b"/>
<rect x="167.44" y="180.76" width="7.42" height="3.87" fill="#d77b34"/>
<rect x="174.85" y="180.76" width="7.42" height="3.87" fill="#c32b4b"/>
<rect x="182.27" y="180.76" width="7.42" height="3.87" fill="#c32b4b"/>
<rect x="189.68" y="180.76" width="7.42" height="3.87" fill="#c32b4b"/>
<rect x="197.10" y="180.76" width="7.42" height="3.87" fill="#c32b4b"/>
<rect x="204.51" y="180.76" width="7.42" height="3.87" fill="#d77b34"/>
<rect x="211.93" y="180.76" width="7.42" height="3.87" fill="#cc632d"/>
<rect x="219.34" y="180.76" width="7.42" height="3.87" fill="#cc632d"/>
<rect x="226.76" y="180.76" width="7.42" height="3.87" fill="#cc632d"/>
<rect x="234.17" y="180.76" width="7.42" height="3.87" fill="#cc632d"/>
<rect x="241.59" y="180.76" width="7.42" height="3.87" fill="#c32b4b"/>
<rect x="100.70" y="184.63" width="7.42" height="3.87" fill="#f5be40"/>
<rect x="108.12" y="184.63" width="7.42" height="3.87" fill="#f5be40"/>
<rect x="115.53" y="184.63" width="7.42" height="3.87" fill="#e39a37"/>
<rect x="122.95" y="184.63" width="7.42" height="3.87" fill="#e39a37"/>
<rect x="130.36" y="184.63" width="7.42" height="3.87" fill="#fbdb45"/>
<rect x="137.78" y="184.63" width="7.42" height="3.87" fill="#e39a37"/>
<rect x="145.19" y="184.63" width="7.42" height="3.87" fill="#f9e689"/>
<rect x="152.61" y="184.63" width="7.42" height="3.87" fill="#f5be40"/>
<rect x="160.02" y="184.63" width="7.42" height="3.87" fill="#f5be40"/>
<rect x="167.44" y="184.63" width="7.42" height="3.87" fill="#fbdb45"/>
<rect x="174.85" y="184.63" width="7.42" height="3.87" fill="#f9e689"/>
<rect x="182.27" y="184.63" width="7.42" height="3.87" fill="#f9e689"/>
<rect x="189.68" y="184.63" width="7.42" height="3.87" fill="#f5be40"/>
<rect x="197.10" y="184.63" width="7.42" height="3.87" fill="#f5be40"/>
<rect x="204.51" y="184.63" width="7.42" height="3.87" fill="#f9e689"/>
<rect x="211.93" y="184.63" width="7.42" height="3.87" fill="#cc632d"/>
<rect x="219.34" y="184.63" width="7.42" height="3.87" fill="#fbdb45"/>
<rect x="226.76" y="184.63" width="7.42" height="3.87" fill="#f5be40"/>
<rect x="234.17" y="184.63" width="7.42" height="3.87" fill="#fbdb45"/>
<rect x="241.59" y="184.63" width="7.42" height="3.87" fill="#d77b34"/>
<rect x="100.70" y="188.50" width="7.42" height="3.87" fill="#fbdb45"/>
<rect x="108.12" y="188.50" width="7.42" height="3.87" fill="#f5be40"/>
<rect x="115.53" y="188.50" width="7.42" height="3.87" fill="#fbdb45"/>
<rect x="122.95" y="188.50" width="7.42" height="3.87" fill="#f5be40"/>
<rect x="130.36" y="188.50" width="7.42" height="3.87" fill="#fbdb45"/>
<rect x="137.78" y="188.50" width="7.42" height="3.87" fill="#f5be40"/>
<rect x="145.19" y="188.50" width="7.42" height="3.87" fill="#e39a37"/>
<rect x="152.61" y="188.50" width="7.42" height="3.87" fill="#e39a37"/>
<rect x="160.02" y="188.50" width="7.42" height="3.87" fill="#e39a37"/>
<rect x="174.85" y="188.50" width="7.42" height="3.87" fill="#f5be40"/>
<rect x="182.27" y="188.50" width="7.42" height="3.87" fill="#f9e689"/>
<rect x="189.68" y="188.50" width="7.42" height="3.87" fill="#f9e689"/>
<rect x="197.10" y="188.50" width="7.42" height="3.87" fill="#f9e689"/>
<rect x="204.51" y="188.50" width="7.42" height="3.87" fill="#f4ebb2"/>
<rect x="219.34" y="188.50" width="7.42" height="3.87" fill="#fbdb45"/>
<rect x="234.17" y="188.50" width="7.42" height="3.87" fill="#fbdb45"/>
<rect x="241.59" y="188.50" width="7.42" height="3.87" fill="#fbdb45"/>
<rect x="108.12" y="192.37" width="7.42" height="3.87" fill="#f4ebb2"/>
<rect x="115.53" y="192.37" width="7.42" height="3.87" fill="#f4ebb2"/>
<rect x="122.95" y="192.37" width="7.42" height="3.87" fill="#f4ebb2"/>
<rect x="130.36" y="192.37" width="7.42" height="3.87" fill="#f4ebb2"/>
<rect x="100.70" y="196.24" width="7.42" height="3.87" fill="#cc632d"/>
<rect x="108.12" y="196.24" width="7.42" height="3.87" fill="#d77b34"/>
<rect x="115.53" y="196.24" width="7.42" height="3.87" fill="#cc632d"/>
<rect x="122.95" y="196.24" width="7.42" height="3.87" fill="#cc632d"/>
<rect x="130.36" y="196.24" width="7.42" height="3.87" fill="#d77b34"/>
<rect x="137.78" y="196.24" width="7.42" height="3.87" fill="#cc632d"/>
<rect x="145.19" y="196.24" width="7.42" height="3.87" fill="#e39a37"/>
<rect x="152.61" y="196.24" width="7.42" height="3.87" fill="#d77b34"/>
<rect x="160.02" y="196.24" width="7.42" height="3.87" fill="#cc632d"/>
<rect x="167.44" y="196.24" width="7.42" height="3.87" fill="#d77b34"/>
<rect x="174.85" y="196.24" width="7.42" height="3.87" fill="#f5be40"/>
<rect x="182.27" y="196.24" width="7.42" height="3.87" fill="#e39a37"/>
<rect x="189.68" y="196.24" width="7.42" height="3.87" fill="#e39a37"/>
<rect x="197.10" y="196.24" width="7.42" height="3.87" fill="#d77b34"/>
<rect x="204.51" y="196.24" width="7.42" height="3.87" fill="#e39a37"/>
<rect x="211.93" y="196.24" width="7.42" height="3.87" fill="#cc632d"/>
<rect x="219.34" y="196.24" width="7.42" height="3.87" fill="#cc632d"/>
<rect x="226.76" y="196.24" width="7.42" height="3.87" fill="#d77b34"/>
<rect x="234.17" y="196.24" width="7.42" height="3.87" fill="#e39a37"/>
<rect x="241.59" y="196.24" width="7.42" height="3.87" fill="#e39a37"/>
<rect x="100.70" y="200.11" width="7.42" height="3.87" fill="#d77b34"/>
<rect x="108.12" y="200.11" width="7.42" height="3.87" fill="#d77b34"/>
<rect x="115.53" y="200.11" width="7.42" height="3.87" fill="#d77b34"/>
<rect x="122.95" y="200.11" width="7.42" height="3.87" fill="#d77b34"/>
<rect x="130.36" y="200.11" width="7.42" height="3.87" fill="#e39a37"/>
<rect x="137.78" y="200.11" width="7.42" height="3.87" fill="#cc632d"/>
<rect x="145.19" y="200.11" width="7.42" height="3.87" fill="#e39a37"/>
<rect x="152.61" y="200.11" width="7.42" height="3.87" fill="#d77b34"/>
<rect x="160.02" y="200.11" width="7.42" height="3.87" fill="#d77b34"/>
<rect x="167.44" y="200.11" width="7.42" height="3.87" fill="#e39a37"/>
<rect x="174.85" y="200.11" width="7.42" height="3.87" fill="#cc632d"/>
<rect x="182.27" y="200.11" width="7.42" height="3.87" fill="#cc632d"/>
<rect x="189.68" y="200.11" width="7.42" height="3.87" fill="#cc632d"/>
<rect x="197.10" y="200.11" width="7.42" height="3.87" fill="#cc632d"/>
<rect x="204.51" y="200.11" width="7.42" height="3.87" fill="#d77b34"/>
<rect x="211.93" y="200.11" width="7.42" height="3.87" fill="#d77b34"/>
<rect x="219.34" y="200.11" width="7.42" height="3.87" fill="#e39a37"/>
<rect x="226.76" y="200.11" width="7.42" height="3.87" fill="#e39a37"/>
<rect x="234.17" y="200.11" width="7.42" height="3.87" fill="#cc632d"/>
<rect x="241.59" y="200.11" width="7.42" height="3.87" fill="#d77b34"/>
<rect x="100.70" y="203.98" width="7.42" height="3.87" fill="#fbdb45"/>
<rect x="108.12" y="203.98" width="7.42" height="3.87" fill="#fbdb45"/>
<rect x="115.53" y="203.98" width="7.42" height="3.87" fill="#f5be40"/>
<rect x="122.95" y="203.98" width="7.42" height="3.87" fill="#f5be40"/>
<rect x="130.36" y="203.98" width="7.42" height="3.87" fill="#fbdb45"/>
<rect x="137.78" y="203.98" width="7.42" height="3.87" fill="#fbdb45"/>
<rect x="145.19" y="203.98" width="7.42" height="3.87" fill="#f9e689"/>
<rect x="174.85" y="203.98" width="7.42" height="3.87" fill="#fbdb45"/>
<rect x="182.27" y="203.98" width="7.42" height="3.87" fill="#fbdb45"/>
<rect x="189.68" y="203.98" width="7.42" height="3.87" fill="#f9e689"/>
<rect x="197.10" y="203.98" width="7.42" height="3.87" fill="#f4ebb2"/>
<rect x="204.51" y="203.98" width="7.42" height="3.87" fill="#f9e689"/>
<rect x="211.93" y="203.98" width="7.42" height="3.87" fill="#fbdb45"/>
<rect x="219.34" y="203.98" width="7.42" height="3.87" fill="#fbdb45"/>
<rect x="226.76" y="203.98" width="7.42" height="3.87" fill="#fbdb45"/>
<rect x="241.59" y="203.98" width="7.42" height="3.87" fill="#fbdb45"/>
<rect x="100.70" y="207.85" width="7.42" height="3.87" fill="#f4ebb2"/>
<rect x="108.12" y="207.85" width="7.42" height="3.87" fill="#f4ebb2"/>
<rect x="115.53" y="207.85" width="7.42" height="3.87" fill="#f4ebb2"/>
<rect x="122.95" y="207.85" width="7.42" height="3.87" fill="#f4ebb2"/>
<rect x="130.36" y="207.85" width="7.42" height="3.87" fill="#f4ebb2"/>
<rect x="108.12" y="211.72" width="7.42" height="3.87" fill="#f4ebb2"/>
<rect x="122.95" y="211.72" width="7.42" height="3.87" fill="#f4ebb2"/>
<rect x="145.19" y="211.72" width="7.42" height="3.87" fill="#f9e689"/>
<rect x="152.61" y="211.72" width="7.42" height="3.87" fill="#fbdb45"/>
<rect x="160.02" y="211.72" width="7.42" height="3.87" fill="#f9e689"/>
<rect x="174.85" y="211.72" width="7.42" height="3.87" fill="#f4ebb2"/>
<rect x="211.93" y="211.72" width="7.42" height="3.87" fill="#fbdb45"/>
<rect x="219.34" y="211.72" width="7.42" height="3.87" fill="#fbdb45"/>
<rect x="115.53" y="215.59" width="7.42" height="3.87" fill="#f4ebb2"/>
<rect x="122.95" y="215.59" width="7.42" height="3.87" fill="#f4ebb2"/>
<rect x="145.19" y="215.59" width="7.42" height="3.87" fill="#f9e689"/>
<rect x="152.61" y="215.59" width="7.42" height="3.87" fill="#f9e689"/>
<rect x="160.02" y="215.59" width="7.42" height="3.87" fill="#f9e689"/>
<rect x="219.34" y="219.46" width="7.42" height="3.87" fill="#fbdb45"/>
<rect x="241.59" y="219.46" width="7.42" height="3.87" fill="#fbdb45"/>
<rect x="100.70" y="223.33" width="7.42" height="3.87" fill="#f9e689"/>
<rect x="108.12" y="223.33" width="7.42" height="3.87" fill="#f9e689"/>
<rect x="115.53" y="223.33" width="7.42" height="3.87" fill="#fbdb45"/>
<rect x="122.95" y="223.33" width="7.42" height="3.87" fill="#f9e689"/>
<rect x="130.36" y="223.33" width="7.42" height="3.87" fill="#f4ebb2"/>
<rect x="145.19" y="223.33" width="7.42" height="3.87" fill="#f9e689"/>
<rect x="152.61" y="223.33" width="7.42" height="3.87" fill="#f9e689"/>
<rect x="160.02" y="223.33" width="7.42" height="3.87" fill="#fbdb45"/>
<rect x="167.44" y="223.33" width="7.42" height="3.87" fill="#f9e689"/>
<rect x="174.85" y="223.33" width="7.42" height="3.87" fill="#f4ebb2"/>
<rect x="182.27" y="223.33" width="7.42" height="3.87" fill="#f9e689"/>
<rect x="189.68" y="223.33" width="7.42" height="3.87" fill="#fbdb45"/>
<rect x="197.10" y="223.33" width="7.42" height="3.87" fill="#fbdb45"/>
<rect x="204.51" y="223.33" width="7.42" height="3.87" fill="#f9e689"/>
<rect x="241.59" y="223.33" width="7.42" height="3.87" fill="#fbdb45"/>
<rect x="100.70" y="227.20" width="7.42" height="3.87" fill="#f9e689"/>
<rect x="108.12" y="227.20" width="7.42" height="3.87" fill="#f9e689"/>
<rect x="115.53" y="227.20" width="7.42" height="3.87" fill="#f9e689"/>
<rect x="122.95" y="227.20" width="7.42" height="3.87" fill="#f9e689"/>
<rect x="130.36" y="227.20" width="7.42" height="3.87" fill="#f4ebb2"/>
<rect x="145.19" y="227.20" width="7.42" height="3.87" fill="#f9e689"/>
<rect x="152.61" y="227.20" width="7.42" height="3.87" fill="#f9e689"/>
<rect x="160.02" y="227.20" width="7.42" height="3.87" fill="#f9e689"/>
<rect x="174.85" y="227.20" width="7.42" height="3.87" fill="#f5be40"/>
<rect x="197.10" y="227.20" width="7.42" height="3.87" fill="#f4ebb2"/>
<rect x="204.51" y="227.20" width="7.42" height="3.87" fill="#f4ebb2"/>
<rect x="219.34" y="227.20" width="7.42" height="3.87" fill="#f5be40"/>
<rect x="226.76" y="227.20" width="7.42" height="3.87" fill="#fbdb45"/>
<rect x="241.59" y="227.20" width="7.42" height="3.87" fill="#fbdb45"/>
<rect x="100.70" y="231.07" width="7.42" height="3.87" fill="#f9e689"/>
<rect x="108.12" y="231.07" width="7.42" height="3.87" fill="#fbdb45"/>
<rect x="115.53" y="231.07" width="7.42" height="3.87" fill="#f5be40"/>
<rect x="122.95" y="231.07" width="7.42" height="3.87" fill="#fbdb45"/>
<rect x="130.36" y="231.07" width="7.42" height="3.87" fill="#f9e689"/>
<rect x="137.78" y="231.07" width="7.42" height="3.87" fill="#e39a37"/>
<rect x="145.19" y="231.07" width="7.42" height="3.87" fill="#f5be40"/>
<rect x="152.61" y="231.07" width="7.42" height="3.87" fill="#f5be40"/>
<rect x="160.02" y="231.07" width="7.42" height="3.87" fill="#fbdb45"/>
<rect x="167.44" y="231.07" width="7.42" height="3.87" fill="#e39a37"/>
<rect x="174.85" y="231.07" width="7.42" height="3.87" fill="#f5be40"/>
<rect x="182.27" y="231.07" width="7.42" height="3.87" fill="#f9e689"/>
<rect x="189.68" y="231.07" width="7.42" height="3.87" fill="#fbdb45"/>
<rect x="197.10" y="231.07" width="7.42" height="3.87" fill="#f4ebb2"/>
<rect x="204.51" y="231.07" width="7.42" height="3.87" fill="#f9e689"/>
<rect x="211.93" y="231.07" width="7.42" height="3.87" fill="#e39a37"/>
<rect x="219.34" y="231.07" width="7.42" height="3.87" fill="#f5be40"/>
<rect x="226.76" y="231.07" width="7.42" height="3.87" fill="#f5be40"/>
<rect x="241.59" y="231.07" width="7.42" height="3.87" fill="#f5be40"/>
<rect x="108.12" y="234.94" width="7.42" height="3.87" fill="#f4ebb2"/>
<rect x="122.95" y="234.94" width="7.42" height="3.87" fill="#f4ebb2"/>
<rect x="130.36" y="234.94" width="7.42" height="3.87" fill="#f4ebb2"/>
<rect x="145.19" y="234.94" width="7.42" height="3.87" fill="#f4ebb2"/>
<rect x="152.61" y="234.94" width="7.42" height="3.87" fill="#f4ebb2"/>
<rect x="160.02" y="234.94" width="7.42" height="3.87" fill="#f4ebb2"/>
<rect x="167.44" y="234.94" width="7.42" height="3.87" fill="#f4ebb2"/>
<rect x="174.85" y="234.94" width="7.42" height="3.87" fill="#f9e689"/>
<rect x="219.34" y="234.94" width="7.42" height="3.87" fill="#fbdb45"/>
<rect x="234.17" y="234.94" width="7.42" height="3.87" fill="#fbdb45"/>
<rect x="241.59" y="234.94" width="7.42" height="3.87" fill="#fbdb45"/>
<rect x="100.70" y="238.81" width="7.42" height="3.87" fill="#f5be40"/>
<rect x="108.12" y="238.81" width="7.42" height="3.87" fill="#f5be40"/>
<rect x="115.53" y="238.81" width="7.42" height="3.87" fill="#d77b34"/>
<rect x="122.95" y="238.81" width="7.42" height="3.87" fill="#d77b34"/>
<rect x="130.36" y="238.81" width="7.42" height="3.87" fill="#f5be40"/>
<rect x="137.78" y="238.81" width="7.42" height="3.87" fill="#e39a37"/>
<rect x="152.61" y="238.81" width="7.42" height="3.87" fill="#fbdb45"/>
<rect x="160.02" y="238.81" width="7.42" height="3.87" fill="#f5be40"/>
<rect x="167.44" y="238.81" width="7.42" height="3.87" fill="#f9e689"/>
<rect x="174.85" y="238.81" width="7.42" height="3.87" fill="#d77b34"/>
<rect x="182.27" y="238.81" width="7.42" height="3.87" fill="#f5be40"/>
<rect x="189.68" y="238.81" width="7.42" height="3.87" fill="#f5be40"/>
<rect x="197.10" y="238.81" width="7.42" height="3.87" fill="#f5be40"/>
<rect x="204.51" y="238.81" width="7.42" height="3.87" fill="#d77b34"/>
<rect x="211.93" y="238.81" width="7.42" height="3.87" fill="#fbdb45"/>
<rect x="219.34" y="238.81" width="7.42" height="3.87" fill="#d77b34"/>
<rect x="226.76" y="238.81" width="7.42" height="3.87" fill="#d77b34"/>
<rect x="234.17" y="238.81" width="7.42" height="3.87" fill="#d77b34"/>
<rect x="241.59" y="238.81" width="7.42" height="3.87" fill="#cc632d"/>
<rect x="100.70" y="242.68" width="7.42" height="3.87" fill="#f4ebb2"/>
<rect x="108.12" y="242.68" width="7.42" height="3.87" fill="#f9e689"/>
<rect x="115.53" y="242.68" width="7.42" height="3.87" fill="#fbdb45"/>
<rect x="122.95" y="242.68" width="7.42" height="3.87" fill="#f9e689"/>
<rect x="130.36" y="242.68" width="7.42" height="3.87" fill="#f4ebb2"/>
<rect x="137.78" y="242.68" width="7.42" height="3.87" fill="#fbdb45"/>
<rect x="174.85" y="242.68" width="7.42" height="3.87" fill="#f9e689"/>
<rect x="182.27" y="242.68" width="7.42" height="3.87" fill="#f9e689"/>
<rect x="189.68" y="242.68" width="7.42" height="3.87" fill="#f4ebb2"/>
<rect x="197.10" y="242.68" width="7.42" height="3.87" fill="#f4ebb2"/>
<rect x="204.51" y="242.68" width="7.42" height="3.87" fill="#f4ebb2"/>
<rect x="219.34" y="242.68" width="7.42" height="3.87" fill="#f5be40"/>
<rect x="241.59" y="242.68" width="7.42" height="3.87" fill="#f5be40"/>
<rect x="100.70" y="246.55" width="7.42" height="3.87" fill="#f4ebb2"/>
<rect x="108.12" y="246.55" width="7.42" height="3.87" fill="#f4ebb2"/>
<rect x="115.53" y="246.55" width="7.42" height="3.87" fill="#f4ebb2"/>
<rect x="122.95" y="246.55" width="7.42" height="3.87" fill="#f4ebb2"/>
<rect x="130.36" y="246.55" width="7.42" height="3.87" fill="#f4ebb2"/>
<rect x="145.19" y="246.55" width="7.42" height="3.87" fill="#f9e689"/>
<rect x="152.61" y="246.55" width="7.42" height="3.87" fill="#f5be40"/>
<rect x="160.02" y="246.55" width="7.42" height="3.87" fill="#fbdb45"/>
<rect x="167.44" y="246.55" width="7.42" height="3.87" fill="#fbdb45"/>
<rect x="174.85" y="246.55" width="7.42" height="3.87" fill="#f4ebb2"/>
<rect x="204.51" y="246.55" width="7.42" height="3.87" fill="#f4ebb2"/>
<rect x="226.76" y="246.55" width="7.42" height="3.87" fill="#fbdb45"/>
<rect x="100.70" y="250.42" width="7.42" height="3.87" fill="#f5be40"/>
<rect x="108.12" y="250.42" width="7.42" height="3.87" fill="#f5be40"/>
<rect x="115.53" y="250.42" width="7.42" height="3.87" fill="#f5be40"/>
<rect x="122.95" y="250.42" width="7.42" height="3.87" fill="#f5be40"/>
<rect x="130.36" y="250.42" width="7.42" height="3.87" fill="#f9e689"/>
<rect x="137.78" y="250.42" width="7.42" height="3.87" fill="#f9e689"/>
<rect x="145.19" y="250.42" width="7.42" height="3.87" fill="#fbdb45"/>
<rect x="152.61" y="250.42" width="7.42" height="3.87" fill="#e39a37"/>
<rect x="160.02" y="250.42" width="7.42" height="3.87" fill="#e39a37"/>
<rect x="167.44" y="250.42" width="7.42" height="3.87" fill="#f5be40"/>
<rect x="174.85" y="250.42" width="7.42" height="3.87" fill="#fbdb45"/>
<rect x="182.27" y="250.42" width="7.42" height="3.87" fill="#f9e689"/>
<rect x="189.68" y="250.42" width="7.42" height="3.87" fill="#fbdb45"/>
<rect x="197.10" y="250.42" width="7.42" height="3.87" fill="#f5be40"/>
<rect x="204.51" y="250.42" width="7.42" height="3.87" fill="#f9e689"/>
<rect x="211.93" y="250.42" width="7.42" height="3.87" fill="#fbdb45"/>
<rect x="219.34" y="250.42" width="7.42" height="3.87" fill="#e39a37"/>
<rect x="226.76" y="250.42" width="7.42" height="3.87" fill="#e39a37"/>
<rect x="234.17" y="250.42" width="7.42" height="3.87" fill="#f5be40"/>
<rect x="241.59" y="250.42" width="7.42" height="3.87" fill="#e39a37"/>
<rect x="100.70" y="254.29" width="7.42" height="3.87" fill="#f4ebb2"/>
<rect x="108.12" y="254.29" width="7.42" height="3.87" fill="#f9e689"/>
<rect x="115.53" y="254.29" width="7.42" height="3.87" fill="#f9e689"/>
<rect x="122.95" y="254.29" width="7.42" height="3.87" fill="#f9e689"/>
<rect x="130.36" y="254.29" width="7.42" height="3.87" fill="#f4ebb2"/>
<rect x="137.78" y="254.29" width="7.42" height="3.87" fill="#f9e689"/>
<rect x="145.19" y="254.29" width="7.42" height="3.87" fill="#fbdb45"/>
<rect x="152.61" y="254.29" width="7.42" height="3.87" fill="#f5be40"/>
<rect x="160.02" y="254.29" width="7.42" height="3.87" fill="#e39a37"/>
<rect x="167.44" y="254.29" width="7.42" height="3.87" fill="#f9e689"/>
<rect x="174.85" y="254.29" width="7.42" height="3.87" fill="#fbdb45"/>
<rect x="182.27" y="254.29" width="7.42" height="3.87" fill="#f4ebb2"/>
<rect x="189.68" y="254.29" width="7.42" height="3.87" fill="#f4ebb2"/>
<rect x="197.10" y="254.29" width="7.42" height="3.87" fill="#f4ebb2"/>
<rect x="226.76" y="254.29" width="7.42" height="3.87" fill="#fbdb45"/>
<rect x="241.59" y="254.29" width="7.42" height="3.87" fill="#f5be40"/>
<rect x="108.12" y="258.16" width="7.42" height="3.87" fill="#f4ebb2"/>
<rect x="115.53" y="258.16" width="7.42" height="3.87" fill="#f4ebb2"/>
<rect x="122.95" y="258.16" width="7.42" height="3.87" fill="#f4ebb2"/>
<rect x="100.70" y="262.03" width="7.42" height="3.87" fill="#f9e689"/>
<rect x="108.12" y="262.03" width="7.42" height="3.87" fill="#f4ebb2"/>
<rect x="115.53" y="262.03" width="7.42" height="3.87" fill="#f4ebb2"/>
<rect x="122.95" y="262.03" width="7.42" height="3.87" fill="#f9e689"/>
<rect x="130.36" y="262.03" width="7.42" height="3.87" fill="#f4ebb2"/>
<rect x="145.19" y="262.03" width="7.42" height="3.87" fill="#f9e689"/>
<rect x="152.61" y="262.03" width="7.42" height="3.87" fill="#f9e689"/>
<rect x="160.02" y="262.03" width="7.42" height="3.87" fill="#f9e689"/>
<rect x="182.27" y="262.03" width="7.42" height="3.87" fill="#f4ebb2"/>
<rect x="189.68" y="262.03" width="7.42" height="3.87" fill="#f4ebb2"/>
<rect x="197.10" y="262.03" width="7.42" height="3.87" fill="#f9e689"/>
<rect x="204.51" y="262.03" width="7.42" height="3.87" fill="#f9e689"/>
<rect x="211.93" y="262.03" width="7.42" height="3.87" fill="#fbdb45"/>
<rect x="100.70" y="265.90" width="7.42" height="3.87" fill="#f9e689"/>
<rect x="108.12" y="265.90" width="7.42" height="3.87" fill="#fbdb45"/>
<rect x="115.53" y="265.90" width="7.42" height="3.87" fill="#fbdb45"/>
<rect x="122.95" y="265.90" width="7.42" height="3.87" fill="#f9e689"/>
<rect x="130.36" y="265.90" width="7.42" height="3.87" fill="#f9e689"/>
<rect x="137.78" y="265.90" width="7.42" height="3.87" fill="#f5be40"/>
<rect x="160.02" y="265.90" width="7.42" height="3.87" fill="#f9e689"/>
<rect x="174.85" y="265.90" width="7.42" height="3.87" fill="#fbdb45"/>
<rect x="189.68" y="265.90" width="7.42" height="3.87" fill="#f4ebb2"/>
<rect x="226.76" y="265.90" width="7.42" height="3.87" fill="#fbdb45"/>
<rect x="241.59" y="265.90" width="7.42" height="3.87" fill="#fbdb45"/>
<rect x="108.12" y="269.77" width="7.42" height="3.87" fill="#f4ebb2"/>
<rect x="115.53" y="269.77" width="7.42" height="3.87" fill="#f4ebb2"/>
<rect x="122.95" y="269.77" width="7.42" height="3.87" fill="#f4ebb2"/>
<rect x="130.36" y="269.77" width="7.42" height="3.87" fill="#f4ebb2"/>
<rect x="160.02" y="269.77" width="7.42" height="3.87" fill="#f9e689"/>
<rect x="174.85" y="269.77" width="7.42" height="3.87" fill="#f9e689"/>
<rect x="108.12" y="273.64" width="7.42" height="3.87" fill="#f4ebb2"/>
<rect x="130.36" y="273.64" width="7.42" height="3.87" fill="#f4ebb2"/>
<rect x="137.78" y="273.64" width="7.42" height="3.87" fill="#f9e689"/>
<rect x="145.19" y="273.64" width="7.42" height="3.87" fill="#f9e689"/>
<rect x="174.85" y="273.64" width="7.42" height="3.87" fill="#f4ebb2"/>
<rect x="100.70" y="277.51" width="7.42" height="3.87" fill="#cc632d"/>
<rect x="108.12" y="277.51" width="7.42" height="3.87" fill="#cc632d"/>
<rect x="115.53" y="277.51" width="7.42" height="3.87" fill="#cc632d"/>
<rect x="122.95" y="277.51" width="7.42" height="3.87" fill="#cc632d"/>
<rect x="130.36" y="277.51" width="7.42" height="3.87" fill="#cc632d"/>
<rect x="137.78" y="277.51" width="7.42" height="3.87" fill="#cc632d"/>
<rect x="145.19" y="277.51" width="7.42" height="3.87" fill="#cc632d"/>
<rect x="152.61" y="277.51" width="7.42" height="3.87" fill="#cc632d"/>
<rect x="160.02" y="277.51" width="7.42" height="3.87" fill="#cc632d"/>
<rect x="167.44" y="277.51" width="7.42" height="3.87" fill="#cc632d"/>
<rect x="174.85" y="277.51" width="7.42" height="3.87" fill="#cc632d"/>
<rect x="182.27" y="277.51" width="7.42" height="3.87" fill="#cc632d"/>
<rect x="189.68" y="277.51" width="7.42" height="3.87" fill="#cc632d"/>
<rect x="197.10" y="277.51" width="7.42" height="3.87" fill="#cc632d"/>
<rect x="204.51" y="277.51" width="7.42" height="3.87" fill="#cc632d"/>
<rect x="211.93" y="277.51" width="7.42" height="3.87" fill="#cc632d"/>
<rect x="219.34" y="277.51" width="7.42" height="3.87" fill="#d77b34"/>
<rect x="226.76" y="277.51" width="7.42" height="3.87" fill="#cc632d"/>
<rect x="234.17" y="277.51" width="7.42" height="3.87" fill="#e39a37"/>
<rect x="241.59" y="277.51" width="7.42" height="3.87" fill="#cc632d"/>
<rect x="100.70" y="281.38" width="7.42" height="3.87" fill="#c32b4b"/>
<rect x="108.12" y="281.38" width="7.42" height="3.87" fill="#cc632d"/>
<rect x="115.53" y="281.38" width="7.42" height="3.87" fill="#c32b4b"/>
<rect x="122.95" y="281.38" width="7.42" height="3.87" fill="#c32b4b"/>
<rect x="130.36" y="281.38" width="7.42" height="3.87" fill="#cc632d"/>
<rect x="137.78" y="281.38" width="7.42" height="3.87" fill="#c32b4b"/>
<rect x="145.19" y="281.38" width="7.42" height="3.87" fill="#cc632d"/>
<rect x="152.61" y="281.38" width="7.42" height="3.87" fill="#c32b4b"/>
<rect x="160.02" y="281.38" width="7.42" height="3.87" fill="#c32b4b"/>
<rect x="167.44" y="281.38" width="7.42" height="3.87" fill="#cc632d"/>
<rect x="174.85" y="281.38" width="7.42" height="3.87" fill="#d77b34"/>
<rect x="182.27" y="281.38" width="7.42" height="3.87" fill="#c32b4b"/>
<rect x="189.68" y="281.38" width="7.42" height="3.87" fill="#c32b4b"/>
<rect x="197.10" y="281.38" width="7.42" height="3.87" fill="#c32b4b"/>
<rect x="204.51" y="281.38" width="7.42" height="3.87" fill="#c32b4b"/>
<rect x="211.93" y="281.38" width="7.42" height="3.87" fill="#c32b4b"/>
<rect x="219.34" y="281.38" width="7.42" height="3.87" fill="#c32b4b"/>
<rect x="226.76" y="281.38" width="7.42" height="3.87" fill="#c32b4b"/>
<rect x="234.17" y="281.38" width="7.42" height="3.87" fill="#d77b34"/>
<rect x="241.59" y="281.38" width="7.42" height="3.87" fill="#c32b4b"/>
<rect x="100.70" y="285.25" width="7.42" height="3.87" fill="#cc632d"/>
<rect x="108.12" y="285.25" width="7.42" height="3.87" fill="#cc632d"/>
<rect x="115.53" y="285.25" width="7.42" height="3.87" fill="#cc632d"/>
<rect x="122.95" y="285.25" width="7.42" height="3.87" fill="#cc632d"/>
<rect x="130.36" y="285.25" width="7.42" height="3.87" fill="#cc632d"/>
<rect x="137.78" y="285.25" width="7.42" height="3.87" fill="#cc632d"/>
<rect x="145.19" y="285.25" width="7.42" height="3.87" fill="#cc632d"/>
<rect x="152.61" y="285.25" width="7.42" height="3.87" fill="#cc632d"/>
<rect x="160.02" y="285.25" width="7.42" height="3.87" fill="#d77b34"/>
<rect x="167.44" y="285.25" width="7.42" height="3.87" fill="#d77b34"/>
<rect x="174.85" y="285.25" width="7.42" height="3.87" fill="#cc632d"/>
<rect x="182.27" y="285.25" width="7.42" height="3.87" fill="#cc632d"/>
<rect x="189.68" y="285.25" width="7.42" height="3.87" fill="#cc632d"/>
<rect x="197.10" y="285.25" width="7.42" height="3.87" fill="#cc632d"/>
<rect x="204.51" y="285.25" width="7.42" height="3.87" fill="#cc632d"/>
<rect x="211.93" y="285.25" width="7.42" height="3.87" fill="#c32b4b"/>
<rect x="219.34" y="285.25" width="7.42" height="3.87" fill="#cc632d"/>
<rect x="226.76" y="285.25" width="7.42" height="3.87" fill="#d77b34"/>
<rect x="234.17" y="285.25" width="7.42" height="3.87" fill="#cc632d"/>
<rect x="241.59" y="285.25" width="7.42" height="3.87" fill="#cc632d"/>
<rect x="100.70" y="289.12" width="7.42" height="3.87" fill="#f9e689"/>
<rect x="108.12" y="289.12" width="7.42" height="3.87" fill="#fbdb45"/>
<rect x="115.53" y="289.12" width="7.42" height="3.87" fill="#f9e689"/>
<rect x="122.95" y="289.12" width="7.42" height="3.87" fill="#f9e689"/>
<rect x="130.36" y="289.12" width="7.42" height="3.87" fill="#fbdb45"/>
<rect x="145.19" y="289.12" width="7.42" height="3.87" fill="#f9e689"/>
<rect x="152.61" y="289.12" width="7.42" height="3.87" fill="#f9e689"/>
<rect x="160.02" y="289.12" width="7.42" height="3.87" fill="#f9e689"/>
<rect x="167.44" y="289.12" width="7.42" height="3.87" fill="#f9e689"/>
<rect x="182.27" y="289.12" width="7.42" height="3.87" fill="#fbdb45"/>
<rect x="211.93" y="289.12" width="7.42" height="3.87" fill="#fbdb45"/>
<rect x="100.70" y="292.99" width="7.42" height="3.87" fill="#f4ebb2"/>
<rect x="115.53" y="292.99" width="7.42" height="3.87" fill="#f4ebb2"/>
<rect x="122.95" y="292.99" width="7.42" height="3.87" fill="#f4ebb2"/>
<rect x="130.36" y="292.99" width="7.42" height="3.87" fill="#f4ebb2"/>
<rect x="189.68" y="292.99" width="7.42" height="3.87" fill="#f9e689"/>
<rect x="108.12" y="296.86" width="7.42" height="3.87" fill="#f4ebb2"/>
<rect x="100.70" y="308.47" width="7.42" height="3.87" fill="#f9e689"/>
<rect x="108.12" y="308.47" width="7.42" height="3.87" fill="#f5be40"/>
<rect x="115.53" y="308.47" width="7.42" height="3.87" fill="#fbdb45"/>
<rect x="122.95" y="308.47" width="7.42" height="3.87" fill="#f9e689"/>
<rect x="130.36" y="308.47" width="7.42" height="3.87" fill="#fbdb45"/>
<rect x="137.78" y="308.47" width="7.42" height="3.87" fill="#fbdb45"/>
<rect x="160.02" y="308.47" width="7.42" height="3.87" fill="#f5be40"/>
<rect x="167.44" y="308.47" width="7.42" height="3.87" fill="#fbdb45"/>
<rect x="174.85" y="308.47" width="7.42" height="3.87" fill="#f4ebb2"/>
<rect x="182.27" y="308.47" width="7.42" height="3.87" fill="#fbdb45"/>
<rect x="189.68" y="308.47" width="7.42" height="3.87" fill="#fbdb45"/>
<rect x="197.10" y="308.47" width="7.42" height="3.87" fill="#fbdb45"/>
<rect x="219.34" y="308.47" width="7.42" height="3.87" fill="#fbdb45"/>
<rect x="226.76" y="308.47" width="7.42" height="3.87" fill="#fbdb45"/>
<rect x="241.59" y="308.47" width="7.42" height="3.87" fill="#fbdb45"/>
<rect x="100.70" y="312.34" width="7.42" height="3.87" fill="#f4ebb2"/>
<rect x="108.12" y="312.34" width="7.42" height="3.87" fill="#f4ebb2"/>
<rect x="115.53" y="312.34" width="7.42" height="3.87" fill="#f4ebb2"/>
<rect x="122.95" y="312.34" width="7.42" height="3.87" fill="#f4ebb2"/>
<rect x="130.36" y="312.34" width="7.42" height="3.87" fill="#f4ebb2"/>
<rect x="137.78" y="312.34" width="7.42" height="3.87" fill="#f9e689"/>
<rect x="182.27" y="312.34" width="7.42" height="3.87" fill="#f4ebb2"/>
<rect x="189.68" y="312.34" width="7.42" height="3.87" fill="#f4ebb2"/>
<rect x="197.10" y="312.34" width="7.42" height="3.87" fill="#f4ebb2"/>
<rect x="204.51" y="312.34" width="7.42" height="3.87" fill="#f4ebb2"/>
<rect x="211.93" y="312.34" width="7.42" height="3.87" fill="#fbdb45"/>
<rect x="219.34" y="312.34" width="7.42" height="3.87" fill="#fbdb45"/>
<rect x="234.17" y="312.34" width="7.42" height="3.87" fill="#fbdb45"/>
<rect x="241.59" y="312.34" width="7.42" height="3.87" fill="#fbdb45"/>
<rect x="100.70" y="316.21" width="7.42" height="3.87" fill="#f4ebb2"/>
<rect x="108.12" y="316.21" width="7.42" height="3.87" fill="#fbdb45"/>
<rect x="115.53" y="316.21" width="7.42" height="3.87" fill="#f9e689"/>
<rect x="122.95" y="316.21" width="7.42" height="3.87" fill="#f9e689"/>
<rect x="130.36" y="316.21" width="7.42" height="3.87" fill="#fbdb45"/>
<rect x="145.19" y="316.21" width="7.42" height="3.87" fill="#f9e689"/>
<rect x="152.61" y="316.21" width="7.42" height="3.87" fill="#f9e689"/>
<rect x="160.02" y="316.21" width="7.42" height="3.87" fill="#f9e689"/>
<rect x="167.44" y="316.21" width="7.42" height="3.87" fill="#f9e689"/>
<rect x="174.85" y="316.21" width="7.42" height="3.87" fill="#f4ebb2"/>
<rect x="182.27" y="316.21" width="7.42" height="3.87" fill="#fbdb45"/>
<rect x="189.68" y="316.21" width="7.42" height="3.87" fill="#fbdb45"/>
<rect x="197.10" y="316.21" width="7.42" height="3.87" fill="#f9e689"/>
<rect x="204.51" y="316.21" width="7.42" height="3.87" fill="#d77b34"/>
<rect x="226.76" y="316.21" width="7.42" height="3.87" fill="#fbdb45"/>
<rect x="234.17" y="316.21" width="7.42" height="3.87" fill="#fbdb45"/>
<rect x="241.59" y="316.21" width="7.42" height="3.87" fill="#f5be40"/>
<rect x="100.70" y="320.08" width="7.42" height="3.87" fill="#f9e689"/>
<rect x="108.12" y="320.08" width="7.42" height="3.87" fill="#f9e689"/>
<rect x="115.53" y="320.08" width="7.42" height="3.87" fill="#fbdb45"/>
<rect x="122.95" y="320.08" width="7.42" height="3.87" fill="#fbdb45"/>
<rect x="130.36" y="320.08" width="7.42" height="3.87" fill="#fbdb45"/>
<rect x="137.78" y="320.08" width="7.42" height="3.87" fill="#f5be40"/>
<rect x="145.19" y="320.08" width="7.42" height="3.87" fill="#f5be40"/>
<rect x="152.61" y="320.08" width="7.42" height="3.87" fill="#fbdb45"/>
<rect x="160.02" y="320.08" width="7.42" height="3.87" fill="#fbdb45"/>
<rect x="167.44" y="320.08" width="7.42" height="3.87" fill="#fbdb45"/>
<rect x="174.85" y="320.08" width="7.42" height="3.87" fill="#fbdb45"/>
<rect x="182.27" y="320.08" width="7.42" height="3.87" fill="#f4ebb2"/>
<rect x="189.68" y="320.08" width="7.42" height="3.87" fill="#f4ebb2"/>
<rect x="197.10" y="320.08" width="7.42" height="3.87" fill="#f4ebb2"/>
<rect x="204.51" y="320.08" width="7.42" height="3.87" fill="#fbdb45"/>
<rect x="100.70" y="323.95" width="7.42" height="3.87" fill="#e39a37"/>
<rect x="108.12" y="323.95" width="7.42" height="3.87" fill="#cc632d"/>
<rect x="115.53" y="323.95" width="7.42" height="3.87" fill="#cc632d"/>
<rect x="122.95" y="323.95" width="7.42" height="3.87" fill="#cc632d"/>
<rect x="130.36" y="323.95" width="7.42" height="3.87" fill="#d77b34"/>
<rect x="137.78" y="323.95" width="7.42" height="3.87" fill="#cc632d"/>
<rect x="145.19" y="323.95" width="7.42" height="3.87" fill="#cc632d"/>
<rect x="152.61" y="323.95" width="7.42" height="3.87" fill="#cc632d"/>
<rect x="160.02" y="323.95" width="7.42" height="3.87" fill="#cc632d"/>
<rect x="167.44" y="323.95" width="7.42" height="3.87" fill="#cc632d"/>
<rect x="174.85" y="323.95" width="7.42" height="3.87" fill="#d77b34"/>
<rect x="182.27" y="323.95" width="7.42" height="3.87" fill="#cc632d"/>
<rect x="189.68" y="323.95" width="7.42" height="3.87" fill="#cc632d"/>
<rect x="197.10" y="323.95" width="7.42" height="3.87" fill="#cc632d"/>
<rect x="204.51" y="323.95" width="7.42" height="3.87" fill="#cc632d"/>
<rect x="211.93" y="323.95" width="7.42" height="3.87" fill="#c32b4b"/>
<rect x="219.34" y="323.95" width="7.42" height="3.87" fill="#cc632d"/>
<rect x="226.76" y="323.95" width="7.42" height="3.87" fill="#cc632d"/>
<rect x="234.17" y="323.95" width="7.42" height="3.87" fill="#d77b34"/>
<rect x="241.59" y="323.95" width="7.42" height="3.87" fill="#c32b4b"/>
<rect x="100.70" y="327.82" width="7.42" height="3.87" fill="#f4ebb2"/>
<rect x="108.12" y="327.82" width="7.42" height="3.87" fill="#f4ebb2"/>
<rect x="115.53" y="327.82" width="7.42" height="3.87" fill="#f4ebb2"/>
<rect x="130.36" y="327.82" width="7.42" height="3.87" fill="#f4ebb2"/>
<rect x="137.78" y="327.82" width="7.42" height="3.87" fill="#f9e689"/>
<rect x="145.19" y="327.82" width="7.42" height="3.87" fill="#f9e689"/>
<rect x="152.61" y="327.82" width="7.42" height="3.87" fill="#fbdb45"/>
<rect x="160.02" y="327.82" width="7.42" height="3.87" fill="#f9e689"/>
<rect x="167.44" y="327.82" width="7.42" height="3.87" fill="#f9e689"/>
<rect x="174.85" y="327.82" width="7.42" height="3.87" fill="#fbdb45"/>
<rect x="182.27" y="327.82" width="7.42" height="3.87" fill="#f4ebb2"/>
<rect x="189.68" y="327.82" width="7.42" height="3.87" fill="#f4ebb2"/>
<rect x="197.10" y="327.82" width="7.42" height="3.87" fill="#f4ebb2"/>
<rect x="204.51" y="327.82" width="7.42" height="3.87" fill="#f4ebb2"/>
<rect x="100.70" y="331.69" width="7.42" height="3.87" fill="#f4ebb2"/>
<rect x="115.53" y="331.69" width="7.42" height="3.87" fill="#f4ebb2"/>
<rect x="122.95" y="331.69" width="7.42" height="3.87" fill="#f4ebb2"/>
<rect x="130.36" y="331.69" width="7.42" height="3.87" fill="#f4ebb2"/>
<rect x="152.61" y="331.69" width="7.42" height="3.87" fill="#f9e689"/>
<rect x="100.70" y="335.56" width="7.42" height="3.87" fill="#f4ebb2"/>
<rect x="108.12" y="335.56" width="7.42" height="3.87" fill="#f4ebb2"/>
<rect x="115.53" y="335.56" width="7.42" height="3.87" fill="#f4ebb2"/>
<rect x="122.95" y="335.56" width="7.42" height="3.87" fill="#f4ebb2"/>
<rect x="130.36" y="335.56" width="7.42" height="3.87" fill="#f4ebb2"/>
<rect x="211.93" y="335.56" width="7.42" height="3.87" fill="#f5be40"/>
<rect x="100.70" y="339.43" width="7.42" height="3.87" fill="#f9e689"/>
<rect x="108.12" y="339.43" width="7.42" height="3.87" fill="#f9e689"/>
<rect x="115.53" y="339.43" width="7.42" height="3.87" fill="#f9e689"/>
<rect x="122.95" y="339.43" width="7.42" height="3.87" fill="#f9e689"/>
<rect x="130.36" y="339.43" width="7.42" height="3.87" fill="#f9e689"/>
<rect x="174.85" y="339.43" width="7.42" height="3.87" fill="#f9e689"/>
<rect x="182.27" y="339.43" width="7.42" height="3.87" fill="#f9e689"/>
<rect x="189.68" y="339.43" width="7.42" height="3.87" fill="#f9e689"/>
<rect x="204.51" y="339.43" width="7.42" height="3.87" fill="#f9e689"/>
</g>
<path d="M100.7 37.57H249.0M100.7 41.44H249.0M100.7 45.31H249.0M100.7 49.18H249.0M100.7 53.05H249.0M100.7 56.92H249.0M100.7 60.79H249.0M100.7 64.66H249.0M100.7 68.53H249.0M100.7 72.40H249.0M100.7 76.27H249.0M100.7 80.14H249.0M100.7 84.01H249.0M100.7 87.88H249.0M100.7 91.75H249.0M100.7 95.62H249.0M100.7 99.49H249.0M100.7 103.36H249.0M100.7 107.23H249.0M100.7 111.10H249.0M100.7 114.97H249.0M100.7 118.84H249.0M100.7 122.71H249.0M100.7 126.58H249.0M100.7 130.45H249.0M100.7 134.32H249.0M100.7 138.19H249.0M100.7 142.06H249.0M100.7 145.93H249.0M100.7 149.80H249.0M100.7 153.67H249.0M100.7 157.54H249.0M100.7 161.41H249.0M100.7 165.28H249.0M100.7 169.15H249.0M100.7 173.02H249.0M100.7 176.89H249.0M100.7 180.76H249.0M100.7 184.63H249.0M100.7 188.50H249.0M100.7 192.37H249.0M100.7 196.24H249.0M100.7 200.11H249.0M100.7 203.98H249.0M100.7 207.85H249.0M100.7 211.72H249.0M100.7 215.59H249.0M100.7 219.46H249.0M100.7 223.33H249.0M100.7 227.20H249.0M100.7 231.07H249.0M100.7 234.94H249.0M100.7 238.81H249.0M100.7 242.68H249.0M100.7 246.55H249.0M100.7 250.42H249.0M100.7 254.29H249.0M100.7 258.16H249.0M100.7 262.03H249.0M100.7 265.90H249.0M100.7 269.77H249.0M100.7 273.64H249.0M100.7 277.51H249.0M100.7 281.38H249.0M100.7 285.25H249.0M100.7 289.12H249.0M100.7 292.99H249.0M100.7 296.86H249.0M100.7 300.73H249.0M100.7 304.60H249.0M100.7 308.47H249.0M100.7 312.34H249.0M100.7 316.21H249.0M100.7 320.08H249.0M100.7 323.95H249.0M100.7 327.82H249.0M100.7 331.69H249.0M100.7 335.56H249.0M100.7 339.43H249.0" stroke="#ffffff" stroke-opacity="0.38" stroke-width="0.7" fill="none"/>
<path d="M108.12 33.7V343.3M115.53 33.7V343.3M122.95 33.7V343.3M130.36 33.7V343.3M137.78 33.7V343.3M145.19 33.7V343.3M152.61 33.7V343.3M160.02 33.7V343.3M167.44 33.7V343.3M174.85 33.7V343.3M182.27 33.7V343.3M189.68 33.7V343.3M197.10 33.7V343.3M204.51 33.7V343.3M211.93 33.7V343.3M219.34 33.7V343.3M226.76 33.7V343.3M234.17 33.7V343.3M241.59 33.7V343.3" stroke="#ffffff" stroke-opacity="0.32" stroke-width="0.5" fill="none"/>
<rect x="100.7" y="20" width="148.35" height="322.90" rx="0.7" fill="none" stroke="#262626" stroke-width="1.25"/>
<path d="M101.60000000000001 21.3 H137 M138.2 21.3 H174 M175.2 21.3 H210.9 M212.1 21.3 H248.1 M101.60000000000001 32.4 H137 M138.2 32.4 H174 M175.2 32.4 H210.9 M212.1 32.4 H248.1" stroke="#ffffff" stroke-opacity="0.55" stroke-width="0.6" fill="none"/>
<line x1="100.7" y1="33.2" x2="249.0" y2="33.2" stroke="#3a3a3a" stroke-width="0.85"/>
<line x1="137.50" y1="20" x2="137.50" y2="342.9" stroke="#1c1c1c" stroke-opacity="0.42" stroke-width="1" shape-rendering="crispEdges"/>
<line x1="174.50" y1="20" x2="174.50" y2="342.9" stroke="#1c1c1c" stroke-opacity="0.42" stroke-width="1" shape-rendering="crispEdges"/>
<line x1="211.50" y1="20" x2="211.50" y2="342.9" stroke="#1c1c1c" stroke-opacity="0.42" stroke-width="1" shape-rendering="crispEdges"/>
<g stroke="#1f1f1f" stroke-width="0.8">
<line x1="97.2" y1="35.64" x2="100.7" y2="35.64"/>
<line x1="97.2" y1="39.51" x2="100.7" y2="39.51"/>
<line x1="97.2" y1="43.38" x2="100.7" y2="43.38"/>
<line x1="97.2" y1="47.25" x2="100.7" y2="47.25"/>
<line x1="97.2" y1="51.12" x2="100.7" y2="51.12"/>
<line x1="97.2" y1="54.98" x2="100.7" y2="54.98"/>
<line x1="97.2" y1="58.86" x2="100.7" y2="58.86"/>
<line x1="97.2" y1="62.73" x2="100.7" y2="62.73"/>
<line x1="97.2" y1="66.59" x2="100.7" y2="66.59"/>
<line x1="97.2" y1="70.47" x2="100.7" y2="70.47"/>
<line x1="97.2" y1="74.34" x2="100.7" y2="74.34"/>
<line x1="97.2" y1="78.21" x2="100.7" y2="78.21"/>
<line x1="97.2" y1="82.08" x2="100.7" y2="82.08"/>
<line x1="97.2" y1="85.95" x2="100.7" y2="85.95"/>
<line x1="97.2" y1="89.81" x2="100.7" y2="89.81"/>
<line x1="97.2" y1="93.69" x2="100.7" y2="93.69"/>
<line x1="97.2" y1="97.56" x2="100.7" y2="97.56"/>
<line x1="97.2" y1="101.43" x2="100.7" y2="101.43"/>
<line x1="97.2" y1="105.30" x2="100.7" y2="105.30"/>
<line x1="97.2" y1="109.17" x2="100.7" y2="109.17"/>
<line x1="97.2" y1="113.04" x2="100.7" y2="113.04"/>
<line x1="97.2" y1="116.91" x2="100.7" y2="116.91"/>
<line x1="97.2" y1="120.78" x2="100.7" y2="120.78"/>
<line x1="97.2" y1="124.65" x2="100.7" y2="124.65"/>
<line x1="97.2" y1="128.51" x2="100.7" y2="128.51"/>
<line x1="97.2" y1="132.38" x2="100.7" y2="132.38"/>
<line x1="97.2" y1="136.25" x2="100.7" y2="136.25"/>
<line x1="97.2" y1="140.12" x2="100.7" y2="140.12"/>
<line x1="97.2" y1="144.00" x2="100.7" y2="144.00"/>
<line x1="97.2" y1="147.87" x2="100.7" y2="147.87"/>
<line x1="97.2" y1="151.74" x2="100.7" y2="151.74"/>
<line x1="97.2" y1="155.61" x2="100.7" y2="155.61"/>
<line x1="97.2" y1="159.48" x2="100.7" y2="159.48"/>
<line x1="97.2" y1="163.35" x2="100.7" y2="163.35"/>
<line x1="97.2" y1="167.22" x2="100.7" y2="167.22"/>
<line x1="97.2" y1="171.08" x2="100.7" y2="171.08"/>
<line x1="97.2" y1="174.95" x2="100.7" y2="174.95"/>
<line x1="97.2" y1="178.82" x2="100.7" y2="178.82"/>
<line x1="97.2" y1="182.69" x2="100.7" y2="182.69"/>
<line x1="97.2" y1="186.56" x2="100.7" y2="186.56"/>
<line x1="97.2" y1="190.44" x2="100.7" y2="190.44"/>
<line x1="97.2" y1="194.31" x2="100.7" y2="194.31"/>
<line x1="97.2" y1="198.18" x2="100.7" y2="198.18"/>
<line x1="97.2" y1="202.05" x2="100.7" y2="202.05"/>
<line x1="97.2" y1="205.92" x2="100.7" y2="205.92"/>
<line x1="97.2" y1="209.79" x2="100.7" y2="209.79"/>
<line x1="97.2" y1="213.66" x2="100.7" y2="213.66"/>
<line x1="97.2" y1="217.53" x2="100.7" y2="217.53"/>
<line x1="97.2" y1="221.39" x2="100.7" y2="221.39"/>
<line x1="97.2" y1="225.26" x2="100.7" y2="225.26"/>
<line x1="97.2" y1="229.13" x2="100.7" y2="229.13"/>
<line x1="97.2" y1="233.00" x2="100.7" y2="233.00"/>
<line x1="97.2" y1="236.88" x2="100.7" y2="236.88"/>
<line x1="97.2" y1="240.75" x2="100.7" y2="240.75"/>
<line x1="97.2" y1="244.62" x2="100.7" y2="244.62"/>
<line x1="97.2" y1="248.49" x2="100.7" y2="248.49"/>
<line x1="97.2" y1="252.36" x2="100.7" y2="252.36"/>
<line x1="97.2" y1="256.23" x2="100.7" y2="256.23"/>
<line x1="97.2" y1="260.10" x2="100.7" y2="260.10"/>
<line x1="97.2" y1="263.97" x2="100.7" y2="263.97"/>
<line x1="97.2" y1="267.84" x2="100.7" y2="267.84"/>
<line x1="97.2" y1="271.70" x2="100.7" y2="271.70"/>
<line x1="97.2" y1="275.57" x2="100.7" y2="275.57"/>
<line x1="97.2" y1="279.44" x2="100.7" y2="279.44"/>
<line x1="97.2" y1="283.31" x2="100.7" y2="283.31"/>
<line x1="97.2" y1="287.19" x2="100.7" y2="287.19"/>
<line x1="97.2" y1="291.06" x2="100.7" y2="291.06"/>
<line x1="97.2" y1="294.93" x2="100.7" y2="294.93"/>
<line x1="97.2" y1="298.80" x2="100.7" y2="298.80"/>
<line x1="97.2" y1="302.67" x2="100.7" y2="302.67"/>
<line x1="97.2" y1="306.53" x2="100.7" y2="306.53"/>
<line x1="97.2" y1="310.40" x2="100.7" y2="310.40"/>
<line x1="97.2" y1="314.27" x2="100.7" y2="314.27"/>
<line x1="97.2" y1="318.14" x2="100.7" y2="318.14"/>
<line x1="97.2" y1="322.01" x2="100.7" y2="322.01"/>
<line x1="97.2" y1="325.88" x2="100.7" y2="325.88"/>
<line x1="97.2" y1="329.75" x2="100.7" y2="329.75"/>
<line x1="97.2" y1="333.62" x2="100.7" y2="333.62"/>
<line x1="97.2" y1="337.50" x2="100.7" y2="337.50"/>
<line x1="97.2" y1="341.37" x2="100.7" y2="341.37"/>
</g>
<g font-size="5" text-anchor="end" fill="#555">
<text transform="translate(94.5,36.99) rotate(0.06) scale(0.835,1)">Adenovirus A</text>
<text transform="translate(94.5,40.86) rotate(0.06) scale(0.835,1)">Adenovirus B</text>
<text transform="translate(94.5,44.73) rotate(0.06) scale(0.835,1)">Adenovirus C</text>
<text transform="translate(94.5,48.60) rotate(0.06) scale(0.835,1)">Adenovirus D</text>
<text transform="translate(94.5,52.47) rotate(0.06) scale(0.835,1)">Adenovirus E</text>
<text transform="translate(94.5,56.34) rotate(0.06) scale(0.835,1)">Adenovirus F</text>
<text transform="translate(94.5,60.21) rotate(0.06) scale(0.835,1)">Aichivirus A</text>
<text transform="translate(94.5,64.08) rotate(0.06) scale(0.835,1)">α-papilloma-1</text>
<text transform="translate(94.5,67.94) rotate(0.06) scale(0.835,1)">α-papilloma-10</text>
<text transform="translate(94.5,71.81) rotate(0.06) scale(0.835,1)">α-papilloma-11</text>
<text transform="translate(94.5,75.69) rotate(0.06) scale(0.835,1)">α-papilloma-6</text>
<text transform="translate(94.5,79.56) rotate(0.06) scale(0.835,1)">α-papilloma-9</text>
<text transform="translate(94.5,83.42) rotate(0.06) scale(0.835,1)">B-corona-1</text>
<text transform="translate(94.5,87.30) rotate(0.06) scale(0.835,1)">β-papilloma-1</text>
<text transform="translate(94.5,91.16) rotate(0.06) scale(0.835,1)">β-papilloma-2</text>
<text transform="translate(94.5,95.03) rotate(0.06) scale(0.835,1)">β-papilloma-3</text>
<text transform="translate(94.5,98.91) rotate(0.06) scale(0.835,1)">BK</text>
<text transform="translate(94.5,102.78) rotate(0.06) scale(0.835,1)">Colorado tick fever</text>
<text transform="translate(94.5,106.64) rotate(0.06) scale(0.835,1)">coronavirus 229E</text>
<text transform="translate(94.5,110.52) rotate(0.06) scale(0.835,1)">coronavirus HKU1</text>
<text transform="translate(94.5,114.39) rotate(0.06) scale(0.835,1)">coronavirus NL63</text>
<text transform="translate(94.5,118.25) rotate(0.06) scale(0.835,1)">Cowpox</text>
<text transform="translate(94.5,122.12) rotate(0.06) scale(0.835,1)" fill="#b9566f">Cytomegalovirus (CMV)</text>
<text transform="translate(94.5,126.00) rotate(0.06) scale(0.835,1)">Dengue</text>
<text transform="translate(94.5,129.86) rotate(0.06) scale(0.835,1)">Encephalomyocarditis</text>
<text transform="translate(94.5,133.73) rotate(0.06) scale(0.835,1)">Enterovirus A</text>
<text transform="translate(94.5,137.60) rotate(0.06) scale(0.835,1)">Enterovirus B</text>
<text transform="translate(94.5,141.47) rotate(0.06) scale(0.835,1)">Enterovirus C</text>
<text transform="translate(94.5,145.34) rotate(0.06) scale(0.835,1)">Enterovirus D</text>
<text transform="translate(94.5,149.22) rotate(0.06) scale(0.835,1)">Epstein-Barr</text>
<text transform="translate(94.5,153.09) rotate(0.06) scale(0.835,1)">Hepatitis A</text>
<text transform="translate(94.5,156.96) rotate(0.06) scale(0.835,1)">Hepatitis B</text>
<text transform="translate(94.5,160.83) rotate(0.06) scale(0.835,1)">Hepatitis C</text>
<text transform="translate(94.5,164.70) rotate(0.06) scale(0.835,1)">Hepatitis delta</text>
<text transform="translate(94.5,168.57) rotate(0.06) scale(0.835,1)">Hepatitis E</text>
<text transform="translate(94.5,172.43) rotate(0.06) scale(0.835,1)">Herpes Simplex-1</text>
<text transform="translate(94.5,176.30) rotate(0.06) scale(0.835,1)">Herpes Simplex-2</text>
<text transform="translate(94.5,180.17) rotate(0.06) scale(0.835,1)">HHV-6A</text>
<text transform="translate(94.5,184.04) rotate(0.06) scale(0.835,1)">HHV-6B</text>
<text transform="translate(94.5,187.91) rotate(0.06) scale(0.835,1)">HHV-7</text>
<text transform="translate(94.5,191.78) rotate(0.06) scale(0.835,1)">HHV-8</text>
<text transform="translate(94.5,195.66) rotate(0.06) scale(0.835,1)">HPV</text>
<text transform="translate(94.5,199.53) rotate(0.06) scale(0.835,1)">Influenza A</text>
<text transform="translate(94.5,203.40) rotate(0.06) scale(0.835,1)">Influenza B</text>
<text transform="translate(94.5,207.27) rotate(0.06) scale(0.835,1)">Influenza C</text>
<text transform="translate(94.5,211.14) rotate(0.06) scale(0.835,1)">Japanese encephalitis</text>
<text transform="translate(94.5,215.01) rotate(0.06) scale(0.835,1)">JC polyoma</text>
<text transform="translate(94.5,218.88) rotate(0.06) scale(0.835,1)">KI polyoma</text>
<text transform="translate(94.5,222.74) rotate(0.06) scale(0.835,1)">Lymphocitic choriomeningitis(LCMV)</text>
<text transform="translate(94.5,226.61) rotate(0.06) scale(0.835,1)">Measles</text>
<text transform="translate(94.5,230.48) rotate(0.06) scale(0.835,1)">Molluscum contagiosum</text>
<text transform="translate(94.5,234.35) rotate(0.06) scale(0.835,1)">MPV</text>
<text transform="translate(94.5,238.22) rotate(0.06) scale(0.835,1)">Mumps</text>
<text transform="translate(94.5,242.09) rotate(0.06) scale(0.835,1)">Norwalk</text>
<text transform="translate(94.5,245.97) rotate(0.06) scale(0.835,1)">Parainfluenza-1</text>
<text transform="translate(94.5,249.84) rotate(0.06) scale(0.835,1)">Parainfluenza-2</text>
<text transform="translate(94.5,253.71) rotate(0.06) scale(0.835,1)">Parainfluenza-3</text>
<text transform="translate(94.5,257.58) rotate(0.06) scale(0.835,1)">Parainfluenza-4</text>
<text transform="translate(94.5,261.45) rotate(0.06) scale(0.835,1)">Parainfluenza-5</text>
<text transform="translate(94.5,265.32) rotate(0.06) scale(0.835,1)">Parechovirus</text>
<text transform="translate(94.5,269.19) rotate(0.06) scale(0.835,1)">Parvo B19</text>
<text transform="translate(94.5,273.06) rotate(0.06) scale(0.835,1)">Picobirnavirus</text>
<text transform="translate(94.5,276.93) rotate(0.06) scale(0.835,1)">Rabies</text>
<text transform="translate(94.5,280.80) rotate(0.06) scale(0.835,1)">RSV</text>
<text transform="translate(94.5,284.67) rotate(0.06) scale(0.835,1)">Rhino-1</text>
<text transform="translate(94.5,288.54) rotate(0.06) scale(0.835,1)">Rhino-2</text>
<text transform="translate(94.5,292.41) rotate(0.06) scale(0.835,1)">Rota-A</text>
<text transform="translate(94.5,296.28) rotate(0.06) scale(0.835,1)">Rota-B</text>
<text transform="translate(94.5,300.15) rotate(0.06) scale(0.835,1)">Rota-C</text>
<text transform="translate(94.5,304.02) rotate(0.06) scale(0.835,1)">Rota-H</text>
<text transform="translate(94.5,307.88) rotate(0.06) scale(0.835,1)">Rotavirus B219</text>
<text transform="translate(94.5,311.75) rotate(0.06) scale(0.835,1)">Rubella</text>
<text transform="translate(94.5,315.62) rotate(0.06) scale(0.835,1)">SARS</text>
<text transform="translate(94.5,319.50) rotate(0.06) scale(0.835,1)">Torque teno</text>
<text transform="translate(94.5,323.37) rotate(0.06) scale(0.835,1)">Vaccinia</text>
<text transform="translate(94.5,327.24) rotate(0.06) scale(0.835,1)">Varicella Zoster</text>
<text transform="translate(94.5,331.11) rotate(0.06) scale(0.835,1)">Variola</text>
<text transform="translate(94.5,334.98) rotate(0.06) scale(0.835,1)">West Nile</text>
<text transform="translate(94.5,338.85) rotate(0.06) scale(0.835,1)">WU polyoma</text>
<text transform="translate(94.5,342.72) rotate(0.06) scale(0.835,1)">Yellow fever</text>
</g>
<g stroke="#1a1a1a" stroke-width="0.9">
<line x1="104.41" y1="342.9" x2="104.41" y2="346.5"/>
<line x1="111.82" y1="342.9" x2="111.82" y2="346.5"/>
<line x1="119.24" y1="342.9" x2="119.24" y2="346.5"/>
<line x1="126.65" y1="342.9" x2="126.65" y2="346.5"/>
<line x1="134.07" y1="342.9" x2="134.07" y2="346.5"/>
<line x1="141.48" y1="342.9" x2="141.48" y2="346.5"/>
<line x1="148.90" y1="342.9" x2="148.90" y2="346.5"/>
<line x1="156.31" y1="342.9" x2="156.31" y2="346.5"/>
<line x1="163.73" y1="342.9" x2="163.73" y2="346.5"/>
<line x1="171.14" y1="342.9" x2="171.14" y2="346.5"/>
<line x1="178.56" y1="342.9" x2="178.56" y2="346.5"/>
<line x1="185.97" y1="342.9" x2="185.97" y2="346.5"/>
<line x1="193.39" y1="342.9" x2="193.39" y2="346.5"/>
<line x1="200.80" y1="342.9" x2="200.80" y2="346.5"/>
<line x1="208.22" y1="342.9" x2="208.22" y2="346.5"/>
<line x1="215.63" y1="342.9" x2="215.63" y2="346.5"/>
<line x1="223.05" y1="342.9" x2="223.05" y2="346.5"/>
<line x1="230.46" y1="342.9" x2="230.46" y2="346.5"/>
<line x1="237.88" y1="342.9" x2="237.88" y2="346.5"/>
</g>
<g font-size="4.5" text-anchor="end" fill="#484848">
<text transform="translate(103.31,351.7) rotate(-47) scale(0.85,1)">Pre D</text>
<text transform="translate(110.72,351.7) rotate(-47) scale(0.85,1)">Pre R</text>
<text transform="translate(118.14,351.7) rotate(-47) scale(0.85,1)">d30</text>
<text transform="translate(125.55,351.7) rotate(-47) scale(0.85,1)">d100</text>
<text transform="translate(132.97,351.7) rotate(-47) scale(0.85,1)">d365</text>
<text transform="translate(140.38,351.7) rotate(-47) scale(0.85,1)">Pre D</text>
<text transform="translate(147.80,351.7) rotate(-47) scale(0.85,1)">Pre R</text>
<text transform="translate(155.21,351.7) rotate(-47) scale(0.85,1)">d30</text>
<text transform="translate(162.63,351.7) rotate(-47) scale(0.85,1)">d100</text>
<text transform="translate(170.04,351.7) rotate(-47) scale(0.85,1)">d365</text>
<text transform="translate(177.46,351.7) rotate(-47) scale(0.85,1)">Pre D</text>
<text transform="translate(184.87,351.7) rotate(-47) scale(0.85,1)">Pre R</text>
<text transform="translate(192.29,351.7) rotate(-47) scale(0.85,1)">d30</text>
<text transform="translate(199.70,351.7) rotate(-47) scale(0.85,1)">d100</text>
<text transform="translate(207.12,351.7) rotate(-47) scale(0.85,1)">d365</text>
<text transform="translate(214.53,351.7) rotate(-47) scale(0.85,1)">Pre D</text>
<text transform="translate(221.95,351.7) rotate(-47) scale(0.85,1)">Pre R</text>
<text transform="translate(229.36,351.7) rotate(-47) scale(0.85,1)">d30</text>
<text transform="translate(236.78,351.7) rotate(-47) scale(0.85,1)">d100</text>
<text transform="translate(244.19,351.7) rotate(-47) scale(0.85,1)">d365</text>
</g>
<text transform="translate(143.50,371.20) rotate(0) scale(0.8764,1)" font-size="9.2" fill="#222" stroke="#222" stroke-width="0.2">Aggregate scores</text>
<text transform="translate(17.2,181.6) rotate(-90) scale(0.8800,1)" font-size="9.2" fill="#222" stroke="#222" stroke-width="0.2" text-anchor="middle">Virus</text>
<rect x="13.2" y="238" width="39.8" height="98.9" fill="#bdbaba"/>
<rect x="15.7" y="239.40" width="9.6" height="7.95" fill="#ffffff"/>
<rect x="15.7" y="247.35" width="9.6" height="7.95" fill="#f4ebb2"/>
<rect x="15.7" y="255.30" width="9.6" height="7.95" fill="#f9e689"/>
<rect x="15.7" y="263.25" width="9.6" height="7.95" fill="#fbdb45"/>
<rect x="15.7" y="271.20" width="9.6" height="7.95" fill="#f5be40"/>
<rect x="15.7" y="279.15" width="9.6" height="7.95" fill="#dd9a40"/>
<rect x="15.7" y="287.10" width="9.6" height="7.95" fill="#d27c3e"/>
<rect x="15.7" y="295.05" width="9.6" height="7.95" fill="#c9652f"/>
<rect x="15.7" y="303.00" width="9.6" height="7.95" fill="#c13451"/>
<rect x="15.7" y="310.95" width="9.6" height="7.95" fill="#ac2c45"/>
<rect x="15.7" y="318.90" width="9.6" height="7.95" fill="#8e2f52"/>
<rect x="15.7" y="326.85" width="9.6" height="7.95" fill="#803b80"/>
<line x1="15.7" y1="247.35" x2="25.3" y2="247.35" stroke="#ffffff" stroke-opacity="0.45" stroke-width="1.1"/>
<line x1="15.7" y1="255.30" x2="25.3" y2="255.30" stroke="#ffffff" stroke-opacity="0.45" stroke-width="1.1"/>
<line x1="15.7" y1="263.25" x2="25.3" y2="263.25" stroke="#ffffff" stroke-opacity="0.45" stroke-width="1.1"/>
<line x1="15.7" y1="271.20" x2="25.3" y2="271.20" stroke="#ffffff" stroke-opacity="0.45" stroke-width="1.1"/>
<line x1="15.7" y1="279.15" x2="25.3" y2="279.15" stroke="#ffffff" stroke-opacity="0.45" stroke-width="1.1"/>
<line x1="15.7" y1="287.10" x2="25.3" y2="287.10" stroke="#ffffff" stroke-opacity="0.45" stroke-width="1.1"/>
<line x1="15.7" y1="295.05" x2="25.3" y2="295.05" stroke="#ffffff" stroke-opacity="0.45" stroke-width="1.1"/>
<line x1="15.7" y1="303.00" x2="25.3" y2="303.00" stroke="#ffffff" stroke-opacity="0.45" stroke-width="1.1"/>
<line x1="15.7" y1="310.95" x2="25.3" y2="310.95" stroke="#ffffff" stroke-opacity="0.45" stroke-width="1.1"/>
<line x1="15.7" y1="318.90" x2="25.3" y2="318.90" stroke="#ffffff" stroke-opacity="0.45" stroke-width="1.1"/>
<line x1="15.7" y1="326.85" x2="25.3" y2="326.85" stroke="#ffffff" stroke-opacity="0.45" stroke-width="1.1"/>
<rect x="15.9" y="239.6" width="9.2" height="95.00" fill="none" stroke="#ffffff" stroke-opacity="0.35" stroke-width="0.5"/>
<text transform="translate(28.00,245.38) rotate(0) scale(0.8900,1)" font-size="5.4" fill="#262626" stroke="#262626" stroke-width="0.12">0</text>
<text transform="translate(28.00,253.32) rotate(0) scale(0.8900,1)" font-size="5.4" fill="#262626" stroke="#262626" stroke-width="0.12">(0, 0.2]</text>
<text transform="translate(28.00,261.28) rotate(0) scale(0.8900,1)" font-size="5.4" fill="#262626" stroke="#262626" stroke-width="0.12">(0.2, 0.4]</text>
<text transform="translate(28.00,269.23) rotate(0) scale(0.8900,1)" font-size="5.4" fill="#262626" stroke="#262626" stroke-width="0.12">(0.4, 0.6]</text>
<text transform="translate(28.00,277.18) rotate(0) scale(0.8900,1)" font-size="5.4" fill="#262626" stroke="#262626" stroke-width="0.12">(0.6, 1]</text>
<text transform="translate(28.00,285.12) rotate(0) scale(0.8900,1)" font-size="5.4" fill="#262626" stroke="#262626" stroke-width="0.12">(1, 2]</text>
<text transform="translate(28.00,293.08) rotate(0) scale(0.8900,1)" font-size="5.4" fill="#262626" stroke="#262626" stroke-width="0.12">(2, 3]</text>
<text transform="translate(28.00,301.03) rotate(0) scale(0.8900,1)" font-size="5.4" fill="#262626" stroke="#262626" stroke-width="0.12">(3, 5]</text>
<text transform="translate(28.00,308.98) rotate(0) scale(0.8900,1)" font-size="5.4" fill="#262626" stroke="#262626" stroke-width="0.12">(5, 10]</text>
<text transform="translate(28.00,316.93) rotate(0) scale(0.8900,1)" font-size="5.4" fill="#262626" stroke="#262626" stroke-width="0.12">(10, 20]</text>
<text transform="translate(28.00,324.88) rotate(0) scale(0.8900,1)" font-size="5.4" fill="#262626" stroke="#262626" stroke-width="0.12">(20, 30]</text>
<text transform="translate(28.00,332.83) rotate(0) scale(0.8900,1)" font-size="5.4" fill="#262626" stroke="#262626" stroke-width="0.12">(30, 40]</text>
</g>
<defs><linearGradient id="gb" x1="0" x2="1" y1="0" y2="0"><stop offset="0" stop-color="#cfd3de"/><stop offset="1" stop-color="#6f83ab"/></linearGradient>
<linearGradient id="gg" x1="0" x2="1" y1="0" y2="0"><stop offset="0" stop-color="#f4f5ee"/><stop offset="0.12" stop-color="#e6ecdc"/><stop offset="1" stop-color="#6ca354"/></linearGradient></defs>
<g id="panelB">
<text transform="translate(264.90,13.80) rotate(0) scale(0.7617,1)" font-size="12.4" fill="#111" stroke="#111" stroke-width="0.1">B</text>
<rect x="287.65" y="121.15" width="14.80" height="8.20" fill="#d2d6e1" stroke="#6d86b6" stroke-width="0.9"/>
<rect x="288.45" y="133.25" width="14.00" height="8.30" fill="#7689ad" stroke="#4a649c" stroke-width="0.9"/>
<rect x="312.35" y="132.65" width="16.20" height="8.90" fill="#9da8c5" stroke="#5f78a8" stroke-width="0.9"/>
<rect x="341.65" y="132.65" width="15.70" height="8.90" fill="#8092b5" stroke="#56709f" stroke-width="0.9"/>
<rect x="465.55" y="131.65" width="15.30" height="9.90" fill="#7487ac" stroke="#4a649c" stroke-width="0.9"/>
<g stroke="#111" stroke-width="1.05" fill="none">
<path d="M305.5 22.3 V143.4 M302.7 143.4 H481.6 M481.6 22.3 V144"/>
<line x1="302.1" y1="25.4" x2="305.5" y2="25.4" stroke="#222" stroke-width="1"/>
<line x1="303.0" y1="54.2" x2="305.5" y2="54.2" stroke="#222" stroke-width="1"/>
<line x1="302.1" y1="83.0" x2="305.5" y2="83.0" stroke="#222" stroke-width="1"/>
<line x1="303.0" y1="111.8" x2="305.5" y2="111.8" stroke="#222" stroke-width="1"/>
<line x1="481.6" y1="25.2" x2="485.0" y2="25.2" stroke="#222" stroke-width="1"/>
<line x1="481.6" y1="64.4" x2="483.6" y2="64.4" stroke="#222" stroke-width="1"/>
<line x1="481.6" y1="103.9" x2="485.0" y2="103.9" stroke="#222" stroke-width="1"/>
</g>
<text transform="translate(299.00,27.70) rotate(0) scale(0.8599,1)" font-size="6.9" fill="#242424" text-anchor="end">800</text>
<text transform="translate(299.00,85.30) rotate(0) scale(0.8599,1)" font-size="6.9" fill="#242424" text-anchor="end">400</text>
<text transform="translate(487.90,27.60) rotate(0) scale(0.8773,1)" font-size="6.9" fill="#242424">300</text>
<text transform="translate(487.90,106.20) rotate(0) scale(0.8773,1)" font-size="6.9" fill="#242424">100</text>
<text transform="translate(278.30,127.80) rotate(0) scale(0.7717,1)" font-size="7.0" fill="#242424">D-</text>
<text transform="translate(278.30,138.80) rotate(0) scale(0.6781,1)" font-size="7.0" fill="#242424">R+</text>
<text transform="translate(284.00,152.80) rotate(0) scale(0.7895,1)" font-size="7.0" fill="#242424">Pre-HCT</text>
<text transform="translate(311.30,152.80) rotate(0) scale(0.8386,1)" font-size="7.0" fill="#242424">Day 30</text>
<text transform="translate(340.00,152.80) rotate(0) scale(0.8438,1)" font-size="7.0" fill="#242424">Day 100</text>
<text transform="translate(460.00,152.80) rotate(0) scale(0.8553,1)" font-size="7.0" fill="#242424">Day 365</text>
<text transform="translate(272.3,83.2) rotate(-90) scale(0.9044,1)" font-size="9.2" fill="#222" stroke="#222" stroke-width="0.2" text-anchor="middle">CMV Antigenemia</text>
<text transform="translate(282.0,83.25) rotate(-90) scale(0.9265,1)" font-size="8.8" fill="#222" stroke="#222" stroke-width="0.15" text-anchor="middle">(cells2x10<tspan font-size="5.2" dy="-3">5</tspan><tspan dy="3">)</tspan></text>
<text transform="translate(504.0,83.15) rotate(90) scale(0.8979,1)" font-size="9.2" fill="#222" stroke="#222" stroke-width="0.2" text-anchor="middle">Prednisone equivalent daily dosage (mg)</text>
<path d="M305.6 65.5 H307.2 L307.9 70.4 H321.6 V78 H323.8 L324.7 86.7 L325.2 100 L325.4 112.4 H326.5 V106.6 H331.6 V109.6 H333.6 V112.6 H336 V116 H338.3 V119.5 H339.6 L340.3 122.5 L341.2 126.5 H343.2 V127.6 H345.6 V129 H347.8 V130.4 H350 V131.8 H352.2 V133.4 H354.4 V135 H356.6 V136.8 H358.4 V138.4" fill="none" stroke="#3b7b5d" stroke-width="1.25" stroke-linejoin="round"/>
<line x1="360" y1="138.2" x2="365.6" y2="138.2" stroke="#3b7b5d" stroke-width="1.2"/>
<g fill="#6d3069">
<circle cx="335.7" cy="36.1" r="2.55"/>
<circle cx="338.6" cy="45.5" r="2.55"/>
<circle cx="330.4" cy="87.8" r="2.55"/>
<circle cx="333.1" cy="90.4" r="2.55"/>
<circle cx="328.9" cy="101.9" r="2.55"/>
<circle cx="337.7" cy="103.6" r="2.55"/>
<circle cx="329" cy="106.6" r="2.55"/>
<circle cx="341.2" cy="135.7" r="2.55"/>
<circle cx="341.5" cy="140.3" r="2.55"/>
<circle cx="344.1" cy="141.3" r="2.55"/>
<circle cx="348.2" cy="139.1" r="2.55"/>
<circle cx="350" cy="141.5" r="2.55"/>
<circle cx="353.4" cy="141.5" r="2.55"/>
<circle cx="357" cy="141" r="2.55"/>
<circle cx="359.8" cy="141.3" r="2.55"/>
<circle cx="371.2" cy="141.2" r="2.55"/>
<circle cx="379" cy="141.2" r="2.55"/>
<circle cx="311.5" cy="173.2" r="2.55"/>
</g>
<text transform="translate(316.90,169.90) rotate(0) scale(0.8706,1)" font-size="7.0" fill="#242424">CMV positive</text>
<text transform="translate(316.90,177.70) rotate(0) scale(0.8624,1)" font-size="7.0" fill="#242424">cells / 200k</text>
<text transform="translate(316.90,185.80) rotate(0) scale(0.8829,1)" font-size="7.0" fill="#242424">leukocytes</text>
<text transform="translate(365.90,176.10) rotate(0) scale(0.8876,1)" font-size="7.0" fill="#242424">Steroid dosage</text>
<text transform="translate(417.90,168.20) rotate(0) scale(0.8621,1)" font-size="7.0" fill="#242424">VirScan CMV epitopes</text>
<text transform="translate(415.30,185.00) rotate(0) scale(0.6775,1)" font-size="6.9" fill="#242424">1</text>
<text transform="translate(444.30,185.00) rotate(0) scale(0.8729,1)" font-size="6.9" fill="#242424" text-anchor="middle">20</text>
<text transform="translate(477.10,185.00) rotate(0) scale(0.8729,1)" font-size="6.9" fill="#242424" text-anchor="middle">40</text>
<line x1="358.9" y1="173.6" x2="364.6" y2="173.6" stroke="#3b7b5d" stroke-width="1.2"/>
<rect x="416.3" y="171.5" width="64.0" height="5.3" fill="url(#gb)" stroke="#5770a4" stroke-width="0.9"/>
</g>
<g id="panelC">
<text transform="translate(266.90,202.80) rotate(0) scale(0.8040,1)" font-size="12.4" fill="#111" stroke="#111" stroke-width="0.1">C</text>
<rect x="273.55" y="238.95" width="14.00" height="11.10" fill="#dfe3d4" stroke="#82b570" stroke-width="0.9"/>
<rect x="273.55" y="252.75" width="14.00" height="10.60" fill="#b6d0a9" stroke="#78b064" stroke-width="0.9"/>
<rect x="301.65" y="240.45" width="12.50" height="11.70" fill="#98bb88" stroke="#6ba755" stroke-width="0.9"/>
<rect x="340.15" y="240.45" width="13.20" height="11.70" fill="#98bb88" stroke="#6ba755" stroke-width="0.9"/>
<rect x="459.55" y="240.65" width="12.60" height="11.50" fill="#bad2ad" stroke="#78b064" stroke-width="0.9"/>
<path d="M294.3 211.5 V253.1 H474.3" fill="none" stroke="#111" stroke-width="1.25"/>
<text transform="translate(278.80,228.80) rotate(0) scale(0.7895,1)" font-size="7.0" fill="#242424" text-anchor="middle">Pre-HCT</text>
<text transform="translate(278.80,236.50) rotate(0) scale(0.7364,1)" font-size="7.0" fill="#242424" text-anchor="middle">RSV</text>
<text transform="translate(266.90,247.30) rotate(0) scale(0.9000,1)" font-size="7.0" fill="#242424" text-anchor="middle">D</text>
<text transform="translate(266.90,260.90) rotate(0) scale(0.9000,1)" font-size="7.0" fill="#242424" text-anchor="middle">R</text>
<text transform="translate(308.30,239.90) rotate(0) scale(1.2148,1)" font-size="5.5" fill="#242424" text-anchor="middle">****</text>
<text transform="translate(308.30,262.00) rotate(0) scale(0.8476,1)" font-size="7.0" fill="#242424" text-anchor="middle">Day 30</text>
<text transform="translate(346.90,262.00) rotate(0) scale(0.8515,1)" font-size="7.0" fill="#242424" text-anchor="middle">Day 100</text>
<text transform="translate(465.90,262.00) rotate(0) scale(0.8284,1)" font-size="7.0" fill="#242424" text-anchor="middle">Day 365</text>
<text transform="translate(299.20,283.80) rotate(0) scale(0.9000,1)" font-size="5.5" fill="#242424">*</text>
<text transform="translate(303.10,280.80) rotate(0) scale(0.8176,1)" font-size="7.0" fill="#242424">Positive RSV</text>
<text transform="translate(303.10,288.00) rotate(0) scale(0.8467,1)" font-size="7.0" fill="#242424">DFA test</text>
<text transform="translate(357.20,278.50) rotate(0) scale(0.8941,1)" font-size="7.0" fill="#242424">Proportion of epitopes recognized</text>
<text transform="translate(355.40,288.00) rotate(0) scale(0.7117,1)" font-size="7.0" fill="#242424" text-anchor="end">0%</text>
<text transform="translate(454.50,288.30) rotate(0) scale(0.8266,1)" font-size="7.0" fill="#242424">100%</text>
<rect x="357.7" y="281.9" width="93.0" height="8.6" fill="url(#gg)" stroke="#74ab5f" stroke-width="0.9"/>
</g>
<g shape-rendering="crispEdges">
<rect x="0" y="0" width="520" height="1" fill="#414141"/>
<rect x="0" y="1" width="520" height="1" fill="#7d7d7d"/>
<rect x="519" y="0" width="1" height="379" fill="#4c4c4c"/>
<rect x="518" y="1" width="1" height="378" fill="#a6a6a6"/>
<rect x="0" y="0" width="1" height="379" fill="#000000"/>
<rect x="0" y="378" width="519" height="1" fill="#000000"/>
</g>
</svg>
</body></html>
